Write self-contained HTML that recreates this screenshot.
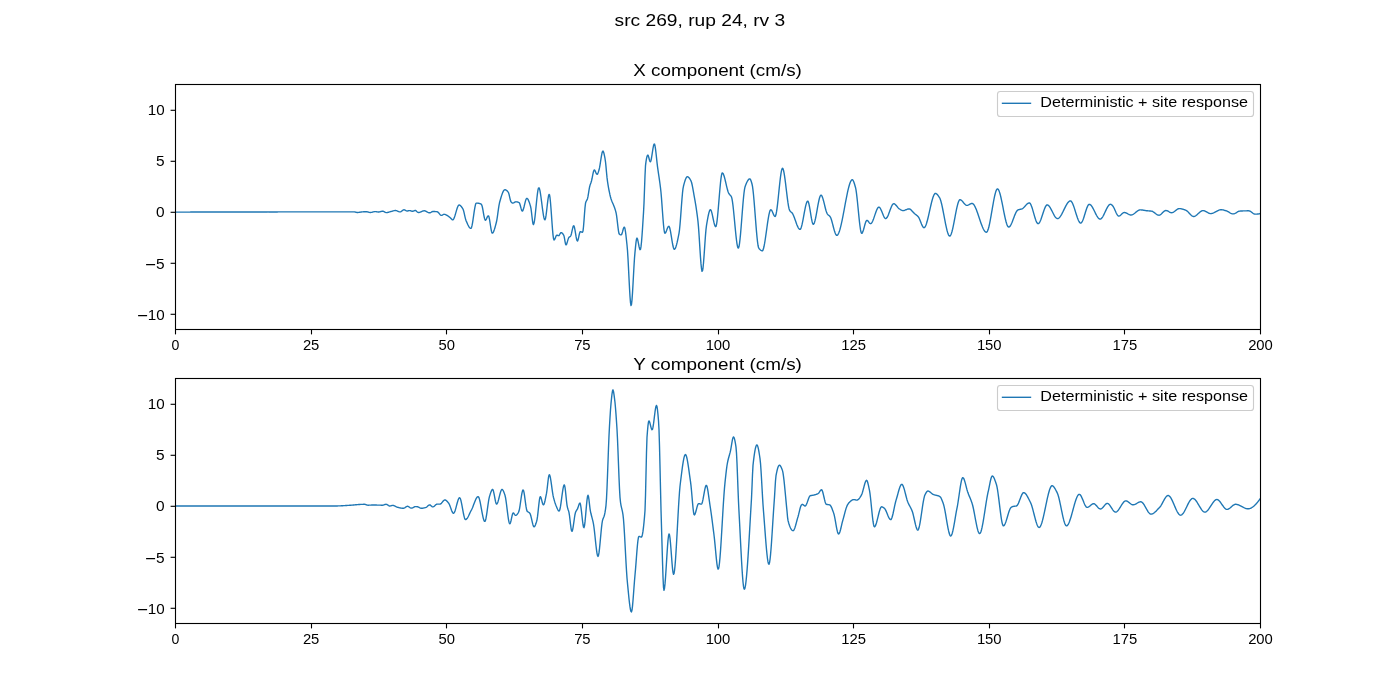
<!DOCTYPE html>
<html><head><meta charset="utf-8"><style>
html,body{margin:0;padding:0;background:#fff;width:1400px;height:700px;overflow:hidden}
svg{display:block;will-change:transform}
text{font-family:"Liberation Sans", sans-serif;fill:#000}
</style></head><body>
<svg width="1400" height="700" viewBox="0 0 1400 700">
<rect x="0" y="0" width="1400" height="700" fill="#fff"/>
<text x="699.9" y="26.3" font-size="16.9" text-anchor="middle" textLength="170.6" lengthAdjust="spacingAndGlyphs" fill="#000">src 269, rup 24, rv 3</text>
<clipPath id="c0"><rect x="175.5" y="84.5" width="1085.0" height="245.0"/></clipPath>
<path d="M175.0,212.10 L175.5,212.10 L176.0,212.10 L176.5,212.10 L177.0,212.10 L177.5,212.09 L178.0,212.09 L178.5,212.09 L179.0,212.09 L179.5,212.09 L180.0,212.09 L180.5,212.09 L181.0,212.09 L181.5,212.08 L182.0,212.08 L182.5,212.08 L183.0,212.08 L183.5,212.08 L184.0,212.08 L184.5,212.08 L185.0,212.08 L185.5,212.08 L186.0,212.07 L186.5,212.07 L187.0,212.07 L187.5,212.07 L188.0,212.07 L188.5,212.07 L189.0,212.07 L189.5,212.07 L190.0,212.07 L190.5,212.06 L191.0,212.06 L191.5,212.06 L192.0,212.06 L192.5,212.06 L193.0,212.06 L193.5,212.06 L194.0,212.06 L194.5,212.06 L195.0,212.05 L195.5,212.05 L196.0,212.05 L196.5,212.05 L197.0,212.05 L197.5,212.05 L198.0,212.05 L198.5,212.05 L199.0,212.05 L199.5,212.04 L200.0,212.04 L200.5,212.04 L201.0,212.04 L201.5,212.04 L202.0,212.04 L202.5,212.04 L203.0,212.04 L203.5,212.04 L204.0,212.04 L204.5,212.03 L205.0,212.03 L205.5,212.03 L206.0,212.03 L206.5,212.03 L207.0,212.03 L207.5,212.03 L208.0,212.03 L208.5,212.03 L209.0,212.03 L209.5,212.02 L210.0,212.02 L210.5,212.02 L211.0,212.02 L211.5,212.02 L212.0,212.02 L212.5,212.02 L213.0,212.02 L213.5,212.02 L214.0,212.02 L214.5,212.01 L215.0,212.01 L215.5,212.01 L216.0,212.01 L216.5,212.01 L217.0,212.01 L217.5,212.01 L218.0,212.01 L218.5,212.01 L219.0,212.01 L219.5,212.01 L220.0,212.00 L220.5,212.00 L221.0,212.00 L221.5,212.00 L222.0,212.00 L222.5,212.00 L223.0,212.00 L223.5,212.00 L224.0,212.00 L224.5,212.00 L225.0,212.00 L225.5,211.99 L226.0,211.99 L226.5,211.99 L227.0,211.99 L227.5,211.99 L228.0,211.99 L228.5,211.99 L229.0,211.99 L229.5,211.99 L230.0,211.99 L230.5,211.99 L231.0,211.99 L231.5,211.98 L232.0,211.98 L232.5,211.98 L233.0,211.98 L233.5,211.98 L234.0,211.98 L234.5,211.98 L235.0,211.98 L235.5,211.98 L236.0,211.98 L236.5,211.98 L237.0,211.98 L237.5,211.98 L238.0,211.97 L238.5,211.97 L239.0,211.97 L239.5,211.97 L240.0,211.97 L240.5,211.97 L241.0,211.97 L241.5,211.97 L242.0,211.97 L242.5,211.97 L243.0,211.97 L243.5,211.97 L244.0,211.97 L244.5,211.96 L245.0,211.96 L245.5,211.96 L246.0,211.96 L246.5,211.96 L247.0,211.96 L247.5,211.96 L248.0,211.96 L248.5,211.96 L249.0,211.96 L249.5,211.96 L250.0,211.96 L250.5,211.96 L251.0,211.96 L251.5,211.95 L252.0,211.95 L252.5,211.95 L253.0,211.95 L253.5,211.95 L254.0,211.95 L254.5,211.95 L255.0,211.95 L255.5,211.95 L256.0,211.95 L256.5,211.95 L257.0,211.95 L257.5,211.95 L258.0,211.95 L258.5,211.95 L259.0,211.95 L259.5,211.94 L260.0,211.94 L260.5,211.94 L261.0,211.94 L261.5,211.94 L262.0,211.94 L262.5,211.94 L263.0,211.94 L263.5,211.94 L264.0,211.94 L264.5,211.94 L265.0,211.94 L265.5,211.94 L266.0,211.94 L266.5,211.94 L267.0,211.94 L267.5,211.94 L268.0,211.93 L268.5,211.93 L269.0,211.93 L269.5,211.93 L270.0,211.93 L270.5,211.93 L271.0,211.93 L271.5,211.93 L272.0,211.93 L272.5,211.93 L273.0,211.93 L273.5,211.93 L274.0,211.93 L274.5,211.93 L275.0,211.93 L275.5,211.93 L276.0,211.93 L276.5,211.93 L277.0,211.93 L277.5,211.93 L278.0,211.92 L278.5,211.92 L279.0,211.92 L279.5,211.92 L280.0,211.92 L280.5,211.92 L281.0,211.92 L281.5,211.92 L282.0,211.92 L282.5,211.92 L283.0,211.92 L283.5,211.92 L284.0,211.92 L284.5,211.92 L285.0,211.92 L285.5,211.92 L286.0,211.92 L286.5,211.92 L287.0,211.92 L287.5,211.92 L288.0,211.92 L288.5,211.92 L289.0,211.92 L289.5,211.92 L290.0,211.91 L290.5,211.91 L291.0,211.91 L291.5,211.91 L292.0,211.91 L292.5,211.91 L293.0,211.91 L293.5,211.91 L294.0,211.91 L294.5,211.91 L295.0,211.91 L295.5,211.91 L296.0,211.91 L296.5,211.91 L297.0,211.91 L297.5,211.91 L298.0,211.91 L298.5,211.91 L299.0,211.91 L299.5,211.91 L300.0,211.91 L300.5,211.91 L301.0,211.91 L301.5,211.91 L302.0,211.91 L302.5,211.91 L303.0,211.91 L303.5,211.91 L304.0,211.91 L304.5,211.91 L305.0,211.91 L305.5,211.91 L306.0,211.91 L306.5,211.91 L307.0,211.90 L307.5,211.90 L308.0,211.90 L308.5,211.90 L309.0,211.90 L309.5,211.90 L310.0,211.90 L310.5,211.90 L311.0,211.90 L311.5,211.90 L312.0,211.90 L312.5,211.90 L313.0,211.90 L313.5,211.90 L314.0,211.90 L314.5,211.90 L315.0,211.90 L315.5,211.90 L316.0,211.90 L316.5,211.90 L317.0,211.90 L317.5,211.90 L318.0,211.90 L318.5,211.90 L319.0,211.90 L319.5,211.90 L320.0,211.90 L320.5,211.90 L321.0,211.90 L321.5,211.90 L322.0,211.90 L322.5,211.90 L323.0,211.90 L323.5,211.90 L324.0,211.90 L324.5,211.90 L325.0,211.90 L325.5,211.90 L326.0,211.90 L326.5,211.90 L327.0,211.90 L327.5,211.90 L328.0,211.90 L328.5,211.90 L329.0,211.90 L329.5,211.90 L330.0,211.90 L330.5,211.90 L331.0,211.90 L331.5,211.90 L332.0,211.90 L332.5,211.90 L333.0,211.90 L333.5,211.90 L334.0,211.90 L334.5,211.90 L335.0,211.90 L335.5,211.90 L336.0,211.90 L336.5,211.90 L337.0,211.90 L337.5,211.90 L338.0,211.90 L338.5,211.90 L339.0,211.90 L339.5,211.90 L340.0,211.90 L340.5,211.90 L341.0,211.90 L341.5,211.90 L342.0,211.90 L342.5,211.90 L343.0,211.90 L343.5,211.90 L344.0,211.90 L344.5,211.90 L345.0,211.90 L345.5,211.90 L346.0,211.90 L346.5,211.90 L347.0,211.90 L347.5,211.90 L348.0,211.90 L348.5,211.90 L349.0,211.90 L349.5,211.90 L350.0,211.90 L350.5,211.90 L351.0,211.90 L351.5,211.90 L352.0,211.90 L352.5,211.90 L353.0,211.90 L353.5,211.90 L354.0,211.90 L354.5,211.90 L355.0,211.94 L355.5,212.06 L356.0,212.22 L356.5,212.37 L357.0,212.48 L357.5,212.50 L358.0,212.47 L358.5,212.42 L359.0,212.35 L359.5,212.27 L360.0,212.19 L360.5,212.10 L361.0,212.02 L361.5,211.96 L362.0,211.91 L362.5,211.87 L363.0,211.84 L363.5,211.81 L364.0,211.78 L364.5,211.75 L365.0,211.73 L365.5,211.71 L366.0,211.70 L366.5,211.70 L367.0,211.75 L367.5,211.86 L368.0,212.01 L368.5,212.16 L369.0,212.31 L369.5,212.43 L370.0,212.49 L370.5,212.49 L371.0,212.43 L371.5,212.34 L372.0,212.22 L372.5,212.08 L373.0,211.94 L373.5,211.81 L374.0,211.70 L374.5,211.63 L375.0,211.60 L375.5,211.62 L376.0,211.67 L376.5,211.74 L377.0,211.82 L377.5,211.89 L378.0,211.95 L378.5,211.99 L379.0,211.99 L379.5,211.92 L380.0,211.80 L380.5,211.65 L381.0,211.49 L381.5,211.34 L382.0,211.24 L382.5,211.20 L383.0,211.27 L383.5,211.45 L384.0,211.69 L384.5,211.97 L385.0,212.24 L385.5,212.45 L386.0,212.58 L386.5,212.59 L387.0,212.55 L387.5,212.47 L388.0,212.37 L388.5,212.24 L389.0,212.10 L389.5,211.95 L390.0,211.80 L390.5,211.65 L391.0,211.52 L391.5,211.40 L392.0,211.26 L392.5,211.10 L393.0,210.95 L393.5,210.81 L394.0,210.68 L394.5,210.58 L395.0,210.52 L395.5,210.50 L396.0,210.56 L396.5,210.69 L397.0,210.86 L397.5,211.07 L398.0,211.29 L398.5,211.50 L399.0,211.68 L399.5,211.82 L400.0,211.89 L400.5,211.86 L401.0,211.65 L401.5,211.30 L402.0,210.89 L402.5,210.47 L403.0,210.11 L403.5,209.87 L404.0,209.80 L404.5,209.91 L405.0,210.13 L405.5,210.40 L406.0,210.67 L406.5,210.89 L407.0,211.00 L407.5,210.98 L408.0,210.90 L408.5,210.79 L409.0,210.68 L409.5,210.61 L410.0,210.61 L410.5,210.72 L411.0,210.89 L411.5,211.08 L412.0,211.24 L412.5,211.30 L413.0,211.22 L413.5,211.02 L414.0,210.78 L414.5,210.55 L415.0,210.41 L415.5,210.45 L416.0,210.73 L416.5,211.16 L417.0,211.65 L417.5,212.10 L418.0,212.41 L418.5,212.50 L419.0,212.45 L419.5,212.34 L420.0,212.18 L420.5,211.99 L421.0,211.78 L421.5,211.56 L422.0,211.34 L422.5,211.14 L423.0,210.97 L423.5,210.84 L424.0,210.76 L424.5,210.76 L425.0,210.85 L425.5,211.02 L426.0,211.25 L426.5,211.52 L427.0,211.80 L427.5,212.09 L428.0,212.35 L428.5,212.57 L429.0,212.73 L429.5,212.80 L430.0,212.75 L430.5,212.56 L431.0,212.30 L431.5,212.00 L432.0,211.74 L432.5,211.55 L433.0,211.50 L433.5,211.50 L434.0,211.51 L434.5,211.53 L435.0,211.55 L435.5,211.58 L436.0,211.61 L436.5,211.65 L437.0,211.69 L437.5,211.82 L438.0,212.17 L438.5,212.68 L439.0,213.28 L439.5,213.91 L440.0,214.51 L440.5,214.99 L441.0,215.31 L441.5,215.40 L442.0,215.26 L442.5,215.00 L443.0,214.70 L443.5,214.44 L444.0,214.30 L444.5,214.32 L445.0,214.42 L445.5,214.58 L446.0,214.79 L446.5,215.06 L447.0,215.36 L447.5,215.69 L448.0,216.04 L448.5,216.41 L449.0,216.78 L449.5,217.14 L450.0,217.50 L450.5,217.95 L451.0,218.52 L451.5,219.10 L452.0,219.59 L452.5,219.87 L453.0,219.80 L453.5,219.26 L454.0,218.31 L454.5,217.03 L455.0,215.51 L455.5,213.84 L456.0,212.10 L456.5,210.38 L457.0,208.76 L457.5,207.33 L458.0,206.17 L458.5,205.37 L459.0,205.01 L459.5,205.06 L460.0,205.29 L460.5,205.67 L461.0,206.17 L461.5,206.79 L462.0,207.49 L462.5,208.26 L463.0,209.08 L463.5,210.43 L464.0,212.33 L464.5,214.53 L465.0,216.79 L465.5,218.85 L466.0,220.46 L466.5,221.62 L467.0,222.77 L467.5,223.90 L468.0,224.96 L468.5,225.93 L469.0,226.78 L469.5,227.48 L470.0,228.00 L470.5,228.32 L471.0,228.37 L471.5,227.53 L472.0,225.68 L472.5,223.05 L473.0,219.90 L473.5,216.45 L474.0,212.96 L474.5,209.66 L475.0,206.79 L475.5,204.60 L476.0,203.33 L476.5,203.10 L477.0,203.12 L477.5,203.16 L478.0,203.22 L478.5,203.30 L479.0,203.39 L479.5,203.50 L480.0,203.62 L480.5,203.76 L481.0,204.01 L481.5,204.41 L482.0,205.64 L482.5,207.75 L483.0,210.42 L483.5,213.30 L484.0,216.06 L484.5,218.37 L485.0,219.88 L485.5,220.28 L486.0,219.79 L486.5,218.82 L487.0,217.64 L487.5,216.56 L488.0,215.84 L488.5,215.83 L489.0,217.12 L489.5,219.48 L490.0,222.50 L490.5,225.76 L491.0,228.86 L491.5,231.38 L492.0,232.92 L492.5,233.16 L493.0,232.72 L493.5,231.85 L494.0,230.63 L494.5,229.14 L495.0,227.44 L495.5,225.61 L496.0,223.73 L496.5,221.77 L497.0,219.10 L497.5,215.80 L498.0,212.21 L498.5,208.63 L499.0,205.38 L499.5,202.79 L500.0,200.95 L500.5,199.21 L501.0,197.51 L501.5,195.90 L502.0,194.40 L502.5,193.05 L503.0,191.88 L503.5,190.93 L504.0,190.23 L504.5,189.81 L505.0,189.70 L505.5,189.80 L506.0,190.03 L506.5,190.38 L507.0,190.82 L507.5,191.34 L508.0,191.92 L508.5,192.65 L509.0,194.19 L509.5,196.33 L510.0,198.62 L510.5,200.62 L511.0,201.88 L511.5,202.38 L512.0,202.77 L512.5,203.03 L513.0,203.10 L513.5,202.95 L514.0,202.66 L514.5,202.31 L515.0,202.00 L515.5,201.82 L516.0,201.81 L516.5,201.85 L517.0,201.93 L517.5,202.04 L518.0,202.18 L518.5,202.36 L519.0,202.56 L519.5,203.10 L520.0,204.44 L520.5,206.25 L521.0,208.17 L521.5,209.84 L522.0,210.90 L522.5,211.03 L523.0,210.27 L523.5,208.85 L524.0,207.00 L524.5,204.91 L525.0,202.81 L525.5,200.89 L526.0,199.37 L526.5,198.46 L527.0,198.33 L527.5,198.69 L528.0,199.39 L528.5,200.39 L529.0,201.63 L529.5,203.06 L530.0,204.62 L530.5,206.27 L531.0,208.58 L531.5,212.37 L532.0,216.77 L532.5,220.87 L533.0,223.77 L533.5,224.56 L534.0,223.33 L534.5,220.63 L535.0,216.80 L535.5,212.20 L536.0,207.17 L536.5,202.08 L537.0,197.27 L537.5,193.09 L538.0,189.89 L538.5,188.03 L539.0,187.80 L539.5,188.87 L540.0,190.95 L540.5,193.81 L541.0,197.24 L541.5,201.04 L542.0,204.99 L542.5,208.87 L543.0,212.47 L543.5,215.59 L544.0,218.00 L544.5,219.50 L545.0,219.86 L545.5,218.54 L546.0,215.71 L546.5,211.87 L547.0,207.50 L547.5,203.07 L548.0,199.09 L548.5,196.02 L549.0,194.36 L549.5,194.71 L550.0,197.59 L550.5,202.46 L551.0,208.69 L551.5,215.67 L552.0,222.77 L552.5,229.38 L553.0,234.86 L553.5,238.61 L554.0,240.00 L554.5,239.61 L555.0,238.65 L555.5,237.42 L556.0,236.22 L556.5,235.35 L557.0,235.11 L557.5,235.27 L558.0,235.53 L558.5,235.69 L559.0,235.49 L559.5,234.78 L560.0,233.87 L560.5,233.05 L561.0,232.61 L561.5,232.68 L562.0,232.97 L562.5,233.44 L563.0,234.06 L563.5,234.79 L564.0,235.92 L564.5,238.37 L565.0,241.34 L565.5,243.85 L566.0,244.90 L566.5,244.39 L567.0,243.09 L567.5,241.38 L568.0,239.60 L568.5,238.12 L569.0,237.29 L569.5,236.91 L570.0,236.61 L570.5,236.21 L571.0,235.27 L571.5,233.45 L572.0,231.16 L572.5,228.83 L573.0,226.91 L573.5,225.81 L574.0,225.99 L574.5,227.55 L575.0,230.07 L575.5,233.09 L576.0,236.15 L576.5,238.81 L577.0,240.60 L577.5,241.07 L578.0,240.06 L578.5,238.07 L579.0,235.67 L579.5,233.45 L580.0,231.98 L580.5,231.71 L581.0,231.83 L581.5,232.02 L582.0,232.20 L582.5,232.30 L583.0,231.08 L583.5,226.78 L584.0,220.59 L584.5,213.78 L585.0,207.59 L585.5,203.30 L586.0,201.61 L586.5,200.72 L587.0,199.92 L587.5,198.68 L588.0,196.38 L588.5,193.30 L589.0,190.06 L589.5,187.26 L590.0,185.35 L590.5,183.89 L591.0,182.53 L591.5,180.95 L592.0,178.77 L592.5,176.20 L593.0,173.64 L593.5,171.49 L594.0,170.15 L594.5,169.97 L595.0,170.60 L595.5,171.67 L596.0,172.86 L596.5,173.87 L597.0,174.38 L597.5,174.10 L598.0,173.06 L598.5,171.61 L599.0,170.09 L599.5,167.96 L600.0,165.12 L600.5,161.89 L601.0,158.59 L601.5,155.54 L602.0,153.05 L602.5,151.44 L603.0,151.03 L603.5,151.84 L604.0,153.56 L604.5,155.88 L605.0,158.48 L605.5,161.78 L606.0,166.67 L606.5,172.21 L607.0,177.42 L607.5,181.37 L608.0,184.57 L608.5,187.53 L609.0,190.25 L609.5,192.73 L610.0,194.97 L610.5,196.98 L611.0,198.73 L611.5,200.23 L612.0,201.52 L612.5,202.68 L613.0,203.79 L613.5,204.93 L614.0,206.17 L614.5,207.58 L615.0,209.03 L615.5,210.62 L616.0,212.48 L616.5,215.08 L617.0,218.83 L617.5,223.15 L618.0,227.44 L618.5,231.09 L619.0,233.50 L619.5,234.24 L620.0,234.55 L620.5,234.77 L621.0,234.89 L621.5,234.69 L622.0,233.59 L622.5,231.90 L623.0,230.00 L623.5,228.31 L624.0,227.21 L624.5,227.15 L625.0,228.76 L625.5,231.77 L626.0,235.75 L626.5,240.30 L627.0,244.98 L627.5,250.52 L628.0,258.52 L628.5,268.10 L629.0,278.28 L629.5,288.08 L630.0,296.53 L630.5,302.67 L631.0,305.51 L631.5,304.37 L632.0,299.86 L632.5,292.87 L633.0,284.30 L633.5,275.04 L634.0,266.00 L634.5,258.05 L635.0,252.10 L635.5,247.16 L636.0,242.40 L636.5,238.99 L637.0,238.03 L637.5,239.03 L638.0,241.06 L638.5,243.63 L639.0,246.25 L639.5,248.43 L640.0,249.68 L640.5,249.33 L641.0,246.64 L641.5,241.98 L642.0,235.81 L642.5,228.60 L643.0,220.79 L643.5,212.86 L644.0,203.13 L644.5,189.49 L645.0,175.71 L645.5,165.68 L646.0,161.59 L646.5,158.68 L647.0,156.48 L647.5,155.22 L648.0,155.13 L648.5,156.32 L649.0,158.24 L649.5,160.23 L650.0,161.63 L650.5,161.77 L651.0,160.44 L651.5,158.01 L652.0,154.91 L652.5,151.55 L653.0,148.37 L653.5,145.77 L654.0,144.19 L654.5,144.06 L655.0,145.74 L655.5,148.87 L656.0,152.98 L656.5,157.61 L657.0,162.31 L657.5,166.60 L658.0,170.20 L658.5,173.59 L659.0,176.94 L659.5,180.37 L660.0,183.98 L660.5,187.88 L661.0,192.53 L661.5,198.43 L662.0,205.11 L662.5,212.06 L663.0,218.78 L663.5,224.76 L664.0,229.50 L664.5,232.50 L665.0,233.29 L665.5,232.85 L666.0,231.92 L666.5,230.70 L667.0,229.34 L667.5,228.04 L668.0,226.97 L668.5,226.32 L669.0,226.29 L669.5,227.23 L670.0,229.02 L670.5,231.46 L671.0,234.33 L671.5,237.44 L672.0,240.56 L672.5,243.50 L673.0,246.04 L673.5,247.98 L674.0,249.10 L674.5,249.26 L675.0,248.80 L675.5,247.89 L676.0,246.57 L676.5,244.91 L677.0,242.95 L677.5,240.76 L678.0,238.38 L678.5,235.88 L679.0,233.30 L679.5,229.78 L680.0,224.72 L680.5,218.60 L681.0,211.89 L681.5,205.06 L682.0,198.59 L682.5,192.95 L683.0,188.61 L683.5,186.01 L684.0,184.11 L684.5,182.34 L685.0,180.73 L685.5,179.33 L686.0,178.19 L686.5,177.34 L687.0,176.83 L687.5,176.70 L688.0,176.86 L688.5,177.20 L689.0,177.71 L689.5,178.36 L690.0,179.13 L690.5,179.98 L691.0,180.90 L691.5,182.29 L692.0,184.24 L692.5,186.63 L693.0,189.31 L693.5,192.15 L694.0,195.02 L694.5,197.81 L695.0,200.64 L695.5,203.61 L696.0,206.73 L696.5,210.05 L697.0,213.60 L697.5,217.42 L698.0,221.59 L698.5,227.15 L699.0,234.12 L699.5,241.90 L700.0,249.86 L700.5,257.39 L701.0,263.88 L701.5,268.71 L702.0,271.26 L702.5,270.97 L703.0,268.01 L703.5,263.00 L704.0,256.57 L704.5,249.37 L705.0,242.01 L705.5,235.14 L706.0,229.39 L706.5,225.40 L707.0,222.48 L707.5,219.62 L708.0,216.92 L708.5,214.49 L709.0,212.45 L709.5,210.89 L710.0,209.95 L710.5,209.72 L711.0,210.31 L711.5,211.60 L712.0,213.43 L712.5,215.63 L713.0,218.01 L713.5,220.41 L714.0,222.65 L714.5,224.57 L715.0,225.98 L715.5,226.73 L716.0,226.48 L716.5,224.62 L717.0,221.35 L717.5,216.96 L718.0,211.73 L718.5,205.93 L719.0,199.85 L719.5,193.77 L720.0,187.97 L720.5,182.74 L721.0,178.35 L721.5,175.08 L722.0,173.22 L722.5,172.95 L723.0,173.44 L723.5,174.42 L724.0,175.80 L724.5,177.50 L725.0,179.43 L725.5,181.52 L726.0,183.68 L726.5,185.84 L727.0,187.91 L727.5,189.82 L728.0,191.47 L728.5,192.80 L729.0,193.73 L729.5,194.38 L730.0,194.91 L730.5,195.44 L731.0,196.10 L731.5,197.03 L732.0,198.90 L732.5,201.87 L733.0,205.71 L733.5,210.23 L734.0,215.23 L734.5,220.49 L735.0,225.83 L735.5,231.04 L736.0,235.90 L736.5,240.23 L737.0,243.81 L737.5,246.45 L738.0,247.94 L738.5,248.06 L739.0,246.55 L739.5,243.59 L740.0,239.43 L740.5,234.33 L741.0,228.52 L741.5,222.26 L742.0,215.80 L742.5,209.40 L743.0,203.30 L743.5,197.75 L744.0,193.00 L744.5,189.30 L745.0,186.90 L745.5,185.54 L746.0,184.27 L746.5,183.08 L747.0,181.99 L747.5,181.03 L748.0,180.21 L748.5,179.56 L749.0,179.10 L749.5,178.84 L750.0,178.86 L750.5,179.52 L751.0,180.73 L751.5,182.29 L752.0,184.00 L752.5,186.42 L753.0,190.09 L753.5,194.79 L754.0,200.29 L754.5,206.35 L755.0,212.74 L755.5,219.24 L756.0,225.61 L756.5,231.63 L757.0,237.06 L757.5,241.67 L758.0,245.24 L758.5,247.53 L759.0,248.45 L759.5,249.04 L760.0,249.56 L760.5,250.01 L761.0,250.37 L761.5,250.63 L762.0,250.78 L762.5,250.73 L763.0,250.01 L763.5,248.57 L764.0,246.53 L764.5,243.97 L765.0,240.99 L765.5,237.71 L766.0,234.22 L766.5,230.61 L767.0,227.00 L767.5,223.47 L768.0,220.14 L768.5,217.10 L769.0,214.45 L769.5,212.29 L770.0,210.72 L770.5,209.85 L771.0,209.74 L771.5,210.18 L772.0,210.99 L772.5,212.05 L773.0,213.22 L773.5,214.38 L774.0,215.39 L774.5,216.14 L775.0,216.49 L775.5,216.09 L776.0,214.53 L776.5,211.97 L777.0,208.58 L777.5,204.55 L778.0,200.06 L778.5,195.28 L779.0,190.39 L779.5,185.58 L780.0,181.01 L780.5,176.88 L781.0,173.35 L781.5,170.61 L782.0,168.83 L782.5,168.20 L783.0,168.73 L783.5,170.23 L784.0,172.55 L784.5,175.54 L785.0,179.06 L785.5,182.95 L786.0,187.08 L786.5,191.29 L787.0,195.44 L787.5,199.38 L788.0,202.96 L788.5,206.04 L789.0,208.47 L789.5,210.10 L790.0,210.93 L790.5,211.49 L791.0,211.93 L791.5,212.35 L792.0,212.85 L792.5,213.53 L793.0,214.43 L793.5,215.49 L794.0,216.70 L794.5,218.02 L795.0,219.40 L795.5,220.83 L796.0,222.25 L796.5,223.64 L797.0,224.95 L797.5,226.16 L798.0,227.24 L798.5,228.13 L799.0,228.81 L799.5,229.25 L800.0,229.40 L800.5,229.06 L801.0,228.09 L801.5,226.60 L802.0,224.66 L802.5,222.39 L803.0,219.86 L803.5,217.17 L804.0,214.42 L804.5,211.70 L805.0,209.10 L805.5,206.71 L806.0,204.63 L806.5,202.95 L807.0,201.76 L807.5,201.16 L808.0,201.29 L808.5,202.39 L809.0,204.27 L809.5,206.75 L810.0,209.63 L810.5,212.70 L811.0,215.77 L811.5,218.65 L812.0,221.13 L812.5,223.01 L813.0,224.11 L813.5,224.24 L814.0,223.62 L814.5,222.39 L815.0,220.66 L815.5,218.51 L816.0,216.05 L816.5,213.36 L817.0,210.55 L817.5,207.71 L818.0,204.94 L818.5,202.34 L819.0,199.99 L819.5,197.99 L820.0,196.45 L820.5,195.45 L821.0,195.10 L821.5,195.38 L822.0,196.16 L822.5,197.36 L823.0,198.90 L823.5,200.69 L824.0,202.65 L824.5,204.70 L825.0,206.75 L825.5,208.72 L826.0,210.53 L826.5,212.08 L827.0,213.31 L827.5,214.13 L828.0,214.68 L828.5,215.10 L829.0,215.49 L829.5,215.93 L830.0,216.50 L830.5,217.36 L831.0,218.58 L831.5,220.07 L832.0,221.77 L832.5,223.62 L833.0,225.54 L833.5,227.47 L834.0,229.33 L834.5,231.06 L835.0,232.59 L835.5,233.86 L836.0,234.79 L836.5,235.31 L837.0,235.37 L837.5,235.07 L838.0,234.45 L838.5,233.54 L839.0,232.35 L839.5,230.92 L840.0,229.26 L840.5,227.39 L841.0,225.35 L841.5,223.14 L842.0,220.80 L842.5,218.34 L843.0,215.79 L843.5,213.18 L844.0,210.51 L844.5,207.82 L845.0,205.13 L845.5,202.45 L846.0,199.83 L846.5,197.26 L847.0,194.78 L847.5,192.42 L848.0,190.18 L848.5,188.10 L849.0,186.20 L849.5,184.50 L850.0,183.02 L850.5,181.78 L851.0,180.81 L851.5,180.13 L852.0,179.76 L852.5,179.75 L853.0,180.24 L853.5,181.20 L854.0,182.50 L854.5,184.05 L855.0,185.73 L855.5,187.46 L856.0,189.95 L856.5,193.39 L857.0,197.58 L857.5,202.28 L858.0,207.30 L858.5,212.42 L859.0,217.43 L859.5,222.11 L860.0,226.25 L860.5,229.63 L861.0,232.05 L861.5,233.28 L862.0,233.27 L862.5,232.57 L863.0,231.35 L863.5,229.78 L864.0,227.98 L864.5,226.10 L865.0,224.27 L865.5,222.64 L866.0,221.34 L866.5,220.52 L867.0,220.31 L867.5,220.54 L868.0,221.02 L868.5,221.66 L869.0,222.34 L869.5,222.98 L870.0,223.46 L870.5,223.69 L871.0,223.59 L871.5,223.16 L872.0,222.44 L872.5,221.49 L873.0,220.34 L873.5,219.04 L874.0,217.63 L874.5,216.15 L875.0,214.65 L875.5,213.17 L876.0,211.76 L876.5,210.46 L877.0,209.31 L877.5,208.36 L878.0,207.64 L878.5,207.21 L879.0,207.11 L879.5,207.35 L880.0,207.91 L880.5,208.71 L881.0,209.71 L881.5,210.86 L882.0,212.09 L882.5,213.36 L883.0,214.60 L883.5,215.77 L884.0,216.80 L884.5,217.65 L885.0,218.26 L885.5,218.57 L886.0,218.54 L886.5,218.18 L887.0,217.55 L887.5,216.68 L888.0,215.61 L888.5,214.40 L889.0,213.09 L889.5,211.71 L890.0,210.31 L890.5,208.94 L891.0,207.65 L891.5,206.46 L892.0,205.43 L892.5,204.61 L893.0,204.02 L893.5,203.73 L894.0,203.73 L894.5,203.92 L895.0,204.25 L895.5,204.69 L896.0,205.21 L896.5,205.80 L897.0,206.41 L897.5,207.03 L898.0,207.62 L898.5,208.16 L899.0,208.61 L899.5,208.96 L900.0,209.29 L900.5,209.62 L901.0,209.93 L901.5,210.21 L902.0,210.43 L902.5,210.56 L903.0,210.60 L903.5,210.56 L904.0,210.46 L904.5,210.32 L905.0,210.15 L905.5,209.95 L906.0,209.75 L906.5,209.55 L907.0,209.35 L907.5,209.18 L908.0,209.04 L908.5,208.94 L909.0,208.90 L909.5,208.95 L910.0,209.15 L910.5,209.46 L911.0,209.88 L911.5,210.37 L912.0,210.92 L912.5,211.49 L913.0,212.06 L913.5,212.61 L914.0,213.12 L914.5,213.57 L915.0,213.98 L915.5,214.37 L916.0,214.76 L916.5,215.16 L917.0,215.59 L917.5,216.05 L918.0,216.56 L918.5,217.16 L919.0,217.98 L919.5,219.01 L920.0,220.19 L920.5,221.46 L921.0,222.75 L921.5,224.01 L922.0,225.18 L922.5,226.19 L923.0,226.99 L923.5,227.51 L924.0,227.70 L924.5,227.51 L925.0,226.95 L925.5,226.07 L926.0,224.90 L926.5,223.47 L927.0,221.82 L927.5,219.99 L928.0,217.99 L928.5,215.89 L929.0,213.69 L929.5,211.45 L930.0,209.20 L930.5,206.96 L931.0,204.78 L931.5,202.70 L932.0,200.73 L932.5,198.93 L933.0,197.32 L933.5,195.94 L934.0,194.82 L934.5,194.01 L935.0,193.52 L935.5,193.40 L936.0,193.53 L936.5,193.82 L937.0,194.25 L937.5,194.79 L938.0,195.41 L938.5,196.10 L939.0,196.82 L939.5,197.55 L940.0,198.55 L940.5,199.91 L941.0,201.57 L941.5,203.51 L942.0,205.67 L942.5,208.01 L943.0,210.50 L943.5,213.08 L944.0,215.71 L944.5,218.36 L945.0,220.98 L945.5,223.52 L946.0,225.95 L946.5,228.21 L947.0,230.28 L947.5,232.10 L948.0,233.63 L948.5,234.83 L949.0,235.65 L949.5,236.06 L950.0,236.01 L950.5,235.48 L951.0,234.51 L951.5,233.15 L952.0,231.47 L952.5,229.49 L953.0,227.28 L953.5,224.89 L954.0,222.36 L954.5,219.75 L955.0,217.11 L955.5,214.47 L956.0,211.91 L956.5,209.45 L957.0,207.17 L957.5,205.09 L958.0,203.28 L958.5,201.79 L959.0,200.66 L959.5,199.95 L960.0,199.70 L960.5,199.79 L961.0,200.02 L961.5,200.39 L962.0,200.86 L962.5,201.40 L963.0,202.00 L963.5,202.61 L964.0,203.23 L964.5,203.81 L965.0,204.34 L965.5,204.79 L966.0,205.13 L966.5,205.34 L967.0,205.40 L967.5,205.32 L968.0,205.16 L968.5,204.93 L969.0,204.66 L969.5,204.37 L970.0,204.08 L970.5,203.82 L971.0,203.60 L971.5,203.45 L972.0,203.40 L972.5,203.50 L973.0,203.80 L973.5,204.28 L974.0,204.92 L974.5,205.71 L975.0,206.64 L975.5,207.69 L976.0,208.85 L976.5,210.10 L977.0,211.43 L977.5,212.83 L978.0,214.27 L978.5,215.75 L979.0,217.25 L979.5,218.75 L980.0,220.25 L980.5,221.72 L981.0,223.16 L981.5,224.54 L982.0,225.85 L982.5,227.09 L983.0,228.23 L983.5,229.26 L984.0,230.16 L984.5,230.92 L985.0,231.53 L985.5,231.98 L986.0,232.23 L986.5,232.29 L987.0,231.93 L987.5,231.11 L988.0,229.85 L988.5,228.23 L989.0,226.27 L989.5,224.04 L990.0,221.57 L990.5,218.91 L991.0,216.12 L991.5,213.23 L992.0,210.31 L992.5,207.38 L993.0,204.52 L993.5,201.75 L994.0,199.12 L994.5,196.70 L995.0,194.51 L995.5,192.62 L996.0,191.06 L996.5,189.89 L997.0,189.16 L997.5,188.90 L998.0,189.12 L998.5,189.76 L999.0,190.77 L999.5,192.12 L1000.0,193.76 L1000.5,195.65 L1001.0,197.76 L1001.5,200.04 L1002.0,202.44 L1002.5,204.94 L1003.0,207.49 L1003.5,210.04 L1004.0,212.56 L1004.5,215.01 L1005.0,217.35 L1005.5,219.53 L1006.0,221.51 L1006.5,223.26 L1007.0,224.73 L1007.5,225.88 L1008.0,226.67 L1008.5,227.06 L1009.0,227.05 L1009.5,226.76 L1010.0,226.24 L1010.5,225.52 L1011.0,224.62 L1011.5,223.57 L1012.0,222.41 L1012.5,221.16 L1013.0,219.85 L1013.5,218.52 L1014.0,217.18 L1014.5,215.87 L1015.0,214.62 L1015.5,213.46 L1016.0,212.41 L1016.5,211.51 L1017.0,210.78 L1017.5,210.25 L1018.0,209.96 L1018.5,209.77 L1019.0,209.63 L1019.5,209.51 L1020.0,209.41 L1020.5,209.30 L1021.0,209.19 L1021.5,209.04 L1022.0,208.86 L1022.5,208.59 L1023.0,208.23 L1023.5,207.80 L1024.0,207.30 L1024.5,206.77 L1025.0,206.21 L1025.5,205.65 L1026.0,205.10 L1026.5,204.57 L1027.0,204.09 L1027.5,203.66 L1028.0,203.32 L1028.5,203.07 L1029.0,202.92 L1029.5,202.93 L1030.0,203.27 L1030.5,203.95 L1031.0,204.93 L1031.5,206.15 L1032.0,207.57 L1032.5,209.15 L1033.0,210.84 L1033.5,212.59 L1034.0,214.36 L1034.5,216.11 L1035.0,217.77 L1035.5,219.33 L1036.0,220.71 L1036.5,221.89 L1037.0,222.81 L1037.5,223.42 L1038.0,223.69 L1038.5,223.59 L1039.0,223.18 L1039.5,222.50 L1040.0,221.58 L1040.5,220.47 L1041.0,219.19 L1041.5,217.79 L1042.0,216.30 L1042.5,214.76 L1043.0,213.22 L1043.5,211.70 L1044.0,210.24 L1044.5,208.88 L1045.0,207.67 L1045.5,206.62 L1046.0,205.79 L1046.5,205.22 L1047.0,204.93 L1047.5,204.93 L1048.0,205.14 L1048.5,205.50 L1049.0,206.01 L1049.5,206.64 L1050.0,207.39 L1050.5,208.22 L1051.0,209.12 L1051.5,210.07 L1052.0,211.05 L1052.5,212.05 L1053.0,213.04 L1053.5,214.01 L1054.0,214.93 L1054.5,215.79 L1055.0,216.57 L1055.5,217.25 L1056.0,217.81 L1056.5,218.24 L1057.0,218.51 L1057.5,218.60 L1058.0,218.52 L1058.5,218.30 L1059.0,217.94 L1059.5,217.46 L1060.0,216.86 L1060.5,216.17 L1061.0,215.40 L1061.5,214.55 L1062.0,213.64 L1062.5,212.68 L1063.0,211.69 L1063.5,210.67 L1064.0,209.65 L1064.5,208.62 L1065.0,207.61 L1065.5,206.62 L1066.0,205.67 L1066.5,204.78 L1067.0,203.94 L1067.5,203.18 L1068.0,202.51 L1068.5,201.94 L1069.0,201.48 L1069.5,201.15 L1070.0,200.95 L1070.5,200.91 L1071.0,201.12 L1071.5,201.61 L1072.0,202.34 L1072.5,203.29 L1073.0,204.43 L1073.5,205.72 L1074.0,207.14 L1074.5,208.65 L1075.0,210.23 L1075.5,211.84 L1076.0,213.45 L1076.5,215.04 L1077.0,216.56 L1077.5,218.00 L1078.0,219.32 L1078.5,220.49 L1079.0,221.49 L1079.5,222.27 L1080.0,222.81 L1080.5,223.08 L1081.0,223.03 L1081.5,222.64 L1082.0,221.94 L1082.5,220.97 L1083.0,219.79 L1083.5,218.42 L1084.0,216.92 L1084.5,215.33 L1085.0,213.70 L1085.5,212.07 L1086.0,210.48 L1086.5,208.98 L1087.0,207.61 L1087.5,206.43 L1088.0,205.46 L1088.5,204.76 L1089.0,204.37 L1089.5,204.32 L1090.0,204.48 L1090.5,204.81 L1091.0,205.28 L1091.5,205.89 L1092.0,206.61 L1092.5,207.43 L1093.0,208.32 L1093.5,209.27 L1094.0,210.27 L1094.5,211.29 L1095.0,212.32 L1095.5,213.33 L1096.0,214.32 L1096.5,215.26 L1097.0,216.14 L1097.5,216.94 L1098.0,217.64 L1098.5,218.22 L1099.0,218.67 L1099.5,218.97 L1100.0,219.10 L1100.5,219.03 L1101.0,218.78 L1101.5,218.35 L1102.0,217.77 L1102.5,217.06 L1103.0,216.24 L1103.5,215.33 L1104.0,214.34 L1104.5,213.31 L1105.0,212.24 L1105.5,211.16 L1106.0,210.09 L1106.5,209.06 L1107.0,208.07 L1107.5,207.16 L1108.0,206.34 L1108.5,205.63 L1109.0,205.05 L1109.5,204.62 L1110.0,204.37 L1110.5,204.30 L1111.0,204.46 L1111.5,204.77 L1112.0,205.15 L1112.5,205.57 L1113.0,206.21 L1113.5,207.03 L1114.0,207.99 L1114.5,209.06 L1115.0,210.19 L1115.5,211.33 L1116.0,212.44 L1116.5,213.48 L1117.0,214.40 L1117.5,215.16 L1118.0,215.73 L1118.5,216.04 L1119.0,216.09 L1119.5,215.94 L1120.0,215.66 L1120.5,215.28 L1121.0,214.83 L1121.5,214.35 L1122.0,213.86 L1122.5,213.40 L1123.0,213.01 L1123.5,212.71 L1124.0,212.53 L1124.5,212.51 L1125.0,212.58 L1125.5,212.72 L1126.0,212.91 L1126.5,213.15 L1127.0,213.41 L1127.5,213.69 L1128.0,213.98 L1128.5,214.25 L1129.0,214.50 L1129.5,214.71 L1130.0,214.87 L1130.5,214.97 L1131.0,215.00 L1131.5,214.94 L1132.0,214.81 L1132.5,214.61 L1133.0,214.35 L1133.5,214.05 L1134.0,213.70 L1134.5,213.33 L1135.0,212.94 L1135.5,212.53 L1136.0,212.13 L1136.5,211.73 L1137.0,211.34 L1137.5,210.99 L1138.0,210.67 L1138.5,210.39 L1139.0,210.17 L1139.5,210.00 L1140.0,209.92 L1140.5,209.90 L1141.0,209.92 L1141.5,209.95 L1142.0,210.00 L1142.5,210.06 L1143.0,210.13 L1143.5,210.21 L1144.0,210.29 L1144.5,210.38 L1145.0,210.46 L1145.5,210.55 L1146.0,210.62 L1146.5,210.70 L1147.0,210.76 L1147.5,210.81 L1148.0,210.85 L1148.5,210.88 L1149.0,210.91 L1149.5,210.94 L1150.0,210.98 L1150.5,211.02 L1151.0,211.07 L1151.5,211.13 L1152.0,211.27 L1152.5,211.47 L1153.0,211.74 L1153.5,212.05 L1154.0,212.40 L1154.5,212.77 L1155.0,213.15 L1155.5,213.54 L1156.0,213.91 L1156.5,214.25 L1157.0,214.56 L1157.5,214.82 L1158.0,215.02 L1158.5,215.15 L1159.0,215.20 L1159.5,215.13 L1160.0,214.93 L1160.5,214.63 L1161.0,214.24 L1161.5,213.80 L1162.0,213.31 L1162.5,212.80 L1163.0,212.29 L1163.5,211.81 L1164.0,211.37 L1164.5,211.00 L1165.0,210.72 L1165.5,210.55 L1166.0,210.50 L1166.5,210.57 L1167.0,210.71 L1167.5,210.92 L1168.0,211.18 L1168.5,211.46 L1169.0,211.74 L1169.5,212.02 L1170.0,212.28 L1170.5,212.49 L1171.0,212.63 L1171.5,212.70 L1172.0,212.67 L1172.5,212.55 L1173.0,212.34 L1173.5,212.07 L1174.0,211.75 L1174.5,211.39 L1175.0,211.01 L1175.5,210.61 L1176.0,210.21 L1176.5,209.83 L1177.0,209.48 L1177.5,209.17 L1178.0,208.91 L1178.5,208.72 L1179.0,208.62 L1179.5,208.60 L1180.0,208.63 L1180.5,208.68 L1181.0,208.76 L1181.5,208.85 L1182.0,208.97 L1182.5,209.10 L1183.0,209.25 L1183.5,209.41 L1184.0,209.59 L1184.5,209.77 L1185.0,209.96 L1185.5,210.15 L1186.0,210.34 L1186.5,210.60 L1187.0,210.95 L1187.5,211.38 L1188.0,211.86 L1188.5,212.38 L1189.0,212.93 L1189.5,213.49 L1190.0,214.05 L1190.5,214.58 L1191.0,215.08 L1191.5,215.53 L1192.0,215.91 L1192.5,216.21 L1193.0,216.41 L1193.5,216.50 L1194.0,216.47 L1194.5,216.35 L1195.0,216.15 L1195.5,215.87 L1196.0,215.54 L1196.5,215.16 L1197.0,214.74 L1197.5,214.30 L1198.0,213.83 L1198.5,213.36 L1199.0,212.90 L1199.5,212.44 L1200.0,212.02 L1200.5,211.63 L1201.0,211.29 L1201.5,211.00 L1202.0,210.79 L1202.5,210.65 L1203.0,210.60 L1203.5,210.64 L1204.0,210.74 L1204.5,210.90 L1205.0,211.10 L1205.5,211.34 L1206.0,211.61 L1206.5,211.90 L1207.0,212.19 L1207.5,212.48 L1208.0,212.75 L1208.5,213.01 L1209.0,213.23 L1209.5,213.40 L1210.0,213.53 L1210.5,213.59 L1211.0,213.59 L1211.5,213.53 L1212.0,213.43 L1212.5,213.29 L1213.0,213.11 L1213.5,212.90 L1214.0,212.67 L1214.5,212.42 L1215.0,212.15 L1215.5,211.87 L1216.0,211.59 L1216.5,211.31 L1217.0,211.04 L1217.5,210.78 L1218.0,210.53 L1218.5,210.31 L1219.0,210.11 L1219.5,209.95 L1220.0,209.82 L1220.5,209.74 L1221.0,209.70 L1221.5,209.71 L1222.0,209.76 L1222.5,209.83 L1223.0,209.93 L1223.5,210.05 L1224.0,210.18 L1224.5,210.32 L1225.0,210.47 L1225.5,210.62 L1226.0,210.77 L1226.5,210.93 L1227.0,211.13 L1227.5,211.37 L1228.0,211.64 L1228.5,211.93 L1229.0,212.22 L1229.5,212.52 L1230.0,212.81 L1230.5,213.08 L1231.0,213.33 L1231.5,213.54 L1232.0,213.71 L1232.5,213.83 L1233.0,213.89 L1233.5,213.88 L1234.0,213.79 L1234.5,213.63 L1235.0,213.41 L1235.5,213.15 L1236.0,212.86 L1236.5,212.55 L1237.0,212.25 L1237.5,211.95 L1238.0,211.67 L1238.5,211.44 L1239.0,211.25 L1239.5,211.13 L1240.0,211.09 L1240.5,211.06 L1241.0,211.03 L1241.5,211.00 L1242.0,210.97 L1242.5,210.95 L1243.0,210.92 L1243.5,210.90 L1244.0,210.88 L1244.5,210.87 L1245.0,210.85 L1245.5,210.84 L1246.0,210.83 L1246.5,210.82 L1247.0,210.81 L1247.5,210.80 L1248.0,210.80 L1248.5,210.80 L1249.0,210.83 L1249.5,210.97 L1250.0,211.18 L1250.5,211.46 L1251.0,211.79 L1251.5,212.15 L1252.0,212.52 L1252.5,212.90 L1253.0,213.24 L1253.5,213.56 L1254.0,213.81 L1254.5,214.00 L1255.0,214.09 L1255.5,214.10 L1256.0,214.10 L1256.5,214.09 L1257.0,214.07 L1257.5,214.04 L1258.0,214.00 L1258.5,213.94 L1259.0,213.85 L1259.5,213.74 L1260.0,213.60" fill="none" stroke="#1f77b4" stroke-width="1.39" stroke-linejoin="round" stroke-linecap="square" clip-path="url(#c0)"/>
<rect x="175.5" y="84.5" width="1085.0" height="245.0" fill="none" stroke="#000" stroke-width="1.11"/>
<text x="717.6" y="76.4" font-size="16.9" text-anchor="middle" textLength="168.6" lengthAdjust="spacingAndGlyphs" fill="#000">X component (cm/s)</text>
<line x1="170.6" y1="314.3" x2="175.5" y2="314.3" stroke="#000" stroke-width="1.11"/>
<text x="164.6" y="320.1" font-size="14.1" text-anchor="end" textLength="16.9" lengthAdjust="spacingAndGlyphs" fill="#000">10</text>
<rect x="138.1" y="315.0" width="9.0" height="1.25" fill="#000"/>
<line x1="170.6" y1="263.3" x2="175.5" y2="263.3" stroke="#000" stroke-width="1.11"/>
<text x="164.6" y="269.1" font-size="14.1" text-anchor="end" textLength="8.6" lengthAdjust="spacingAndGlyphs" fill="#000">5</text>
<rect x="146.1" y="264.0" width="9.0" height="1.25" fill="#000"/>
<line x1="170.6" y1="212.3" x2="175.5" y2="212.3" stroke="#000" stroke-width="1.11"/>
<text x="164.6" y="217.3" font-size="14.1" text-anchor="end" textLength="8.6" lengthAdjust="spacingAndGlyphs" fill="#000">0</text>
<line x1="170.6" y1="161.3" x2="175.5" y2="161.3" stroke="#000" stroke-width="1.11"/>
<text x="164.6" y="166.3" font-size="14.1" text-anchor="end" textLength="8.6" lengthAdjust="spacingAndGlyphs" fill="#000">5</text>
<line x1="170.6" y1="110.30000000000001" x2="175.5" y2="110.30000000000001" stroke="#000" stroke-width="1.11"/>
<text x="164.6" y="115.30000000000001" font-size="14.1" text-anchor="end" textLength="16.9" lengthAdjust="spacingAndGlyphs" fill="#000">10</text>
<line x1="175.5" y1="329.5" x2="175.5" y2="334.4" stroke="#000" stroke-width="1.11"/>
<text x="175.5" y="349.8" font-size="14.1" text-anchor="middle" fill="#000">0</text>
<line x1="311.5" y1="329.5" x2="311.5" y2="334.4" stroke="#000" stroke-width="1.11"/>
<text x="311.125" y="349.8" font-size="14.1" text-anchor="middle" textLength="16.5" lengthAdjust="spacingAndGlyphs" fill="#000">25</text>
<line x1="446.5" y1="329.5" x2="446.5" y2="334.4" stroke="#000" stroke-width="1.11"/>
<text x="446.75" y="349.8" font-size="14.1" text-anchor="middle" textLength="16.5" lengthAdjust="spacingAndGlyphs" fill="#000">50</text>
<line x1="582.5" y1="329.5" x2="582.5" y2="334.4" stroke="#000" stroke-width="1.11"/>
<text x="582.375" y="349.8" font-size="14.1" text-anchor="middle" textLength="16.5" lengthAdjust="spacingAndGlyphs" fill="#000">75</text>
<line x1="718.5" y1="329.5" x2="718.5" y2="334.4" stroke="#000" stroke-width="1.11"/>
<text x="718.0" y="349.8" font-size="14.1" text-anchor="middle" textLength="24.75" lengthAdjust="spacingAndGlyphs" fill="#000">100</text>
<line x1="853.5" y1="329.5" x2="853.5" y2="334.4" stroke="#000" stroke-width="1.11"/>
<text x="853.625" y="349.8" font-size="14.1" text-anchor="middle" textLength="24.75" lengthAdjust="spacingAndGlyphs" fill="#000">125</text>
<line x1="989.5" y1="329.5" x2="989.5" y2="334.4" stroke="#000" stroke-width="1.11"/>
<text x="989.25" y="349.8" font-size="14.1" text-anchor="middle" textLength="24.75" lengthAdjust="spacingAndGlyphs" fill="#000">150</text>
<line x1="1124.5" y1="329.5" x2="1124.5" y2="334.4" stroke="#000" stroke-width="1.11"/>
<text x="1124.875" y="349.8" font-size="14.1" text-anchor="middle" textLength="24.75" lengthAdjust="spacingAndGlyphs" fill="#000">175</text>
<line x1="1260.5" y1="329.5" x2="1260.5" y2="334.4" stroke="#000" stroke-width="1.11"/>
<text x="1260.5" y="349.8" font-size="14.1" text-anchor="middle" textLength="24.75" lengthAdjust="spacingAndGlyphs" fill="#000">200</text>
<rect x="997.5" y="91.5" width="256" height="25" rx="2.8" ry="2.8" fill="#fff" fill-opacity="0.8" stroke="#cccccc" stroke-width="1.11"/>
<line x1="1002.5" y1="103.3" x2="1030.5" y2="103.3" stroke="#1f77b4" stroke-width="1.39" stroke-linecap="square"/>
<text x="1040.3" y="107.0" font-size="14.1" text-anchor="start" textLength="207.8" lengthAdjust="spacingAndGlyphs" fill="#000">Deterministic + site response</text>
<clipPath id="c1"><rect x="175.5" y="378.5" width="1085.0" height="245.0"/></clipPath>
<path d="M175.0,506.00 L175.5,506.00 L176.0,506.00 L176.5,506.00 L177.0,506.00 L177.5,506.00 L178.0,506.00 L178.5,506.00 L179.0,506.00 L179.5,506.00 L180.0,506.00 L180.5,506.00 L181.0,506.00 L181.5,506.00 L182.0,506.00 L182.5,506.00 L183.0,506.00 L183.5,506.00 L184.0,506.00 L184.5,506.00 L185.0,506.00 L185.5,506.00 L186.0,506.00 L186.5,506.00 L187.0,506.00 L187.5,506.00 L188.0,506.00 L188.5,506.00 L189.0,506.00 L189.5,506.00 L190.0,506.00 L190.5,506.00 L191.0,506.00 L191.5,506.00 L192.0,506.00 L192.5,506.00 L193.0,506.00 L193.5,506.00 L194.0,506.00 L194.5,506.00 L195.0,506.00 L195.5,506.00 L196.0,506.00 L196.5,506.00 L197.0,506.00 L197.5,506.00 L198.0,506.00 L198.5,506.00 L199.0,506.00 L199.5,506.00 L200.0,506.00 L200.5,506.00 L201.0,506.00 L201.5,506.00 L202.0,506.00 L202.5,506.00 L203.0,506.00 L203.5,506.00 L204.0,506.00 L204.5,506.00 L205.0,506.00 L205.5,506.00 L206.0,506.00 L206.5,506.00 L207.0,506.00 L207.5,506.00 L208.0,506.00 L208.5,506.00 L209.0,506.00 L209.5,506.00 L210.0,506.00 L210.5,506.00 L211.0,506.00 L211.5,506.00 L212.0,506.00 L212.5,506.00 L213.0,506.00 L213.5,506.00 L214.0,506.00 L214.5,506.00 L215.0,506.00 L215.5,506.00 L216.0,506.00 L216.5,506.00 L217.0,506.00 L217.5,506.00 L218.0,506.00 L218.5,506.00 L219.0,506.00 L219.5,506.00 L220.0,506.00 L220.5,506.00 L221.0,506.00 L221.5,506.00 L222.0,506.00 L222.5,506.00 L223.0,506.00 L223.5,506.00 L224.0,506.00 L224.5,506.00 L225.0,506.00 L225.5,506.00 L226.0,506.00 L226.5,506.00 L227.0,506.00 L227.5,506.00 L228.0,506.00 L228.5,506.00 L229.0,506.00 L229.5,506.00 L230.0,506.00 L230.5,506.00 L231.0,506.00 L231.5,506.00 L232.0,506.00 L232.5,506.00 L233.0,506.00 L233.5,506.00 L234.0,506.00 L234.5,506.00 L235.0,506.00 L235.5,506.00 L236.0,506.00 L236.5,506.00 L237.0,506.00 L237.5,506.00 L238.0,506.00 L238.5,506.00 L239.0,506.00 L239.5,506.00 L240.0,506.00 L240.5,506.00 L241.0,506.00 L241.5,506.00 L242.0,506.00 L242.5,506.00 L243.0,506.00 L243.5,506.00 L244.0,506.00 L244.5,506.00 L245.0,506.00 L245.5,506.00 L246.0,506.00 L246.5,506.00 L247.0,506.00 L247.5,506.00 L248.0,506.00 L248.5,506.00 L249.0,506.00 L249.5,506.00 L250.0,506.00 L250.5,506.00 L251.0,506.00 L251.5,506.00 L252.0,506.00 L252.5,506.00 L253.0,506.00 L253.5,506.00 L254.0,506.00 L254.5,506.00 L255.0,506.00 L255.5,506.00 L256.0,506.00 L256.5,506.00 L257.0,506.00 L257.5,506.00 L258.0,506.00 L258.5,506.00 L259.0,506.00 L259.5,506.00 L260.0,506.00 L260.5,506.00 L261.0,506.00 L261.5,506.00 L262.0,506.00 L262.5,506.00 L263.0,506.00 L263.5,506.00 L264.0,506.00 L264.5,506.00 L265.0,506.00 L265.5,506.00 L266.0,506.00 L266.5,506.00 L267.0,506.00 L267.5,506.00 L268.0,506.00 L268.5,506.00 L269.0,506.00 L269.5,506.00 L270.0,506.00 L270.5,506.00 L271.0,506.00 L271.5,506.00 L272.0,506.00 L272.5,506.00 L273.0,506.00 L273.5,506.00 L274.0,506.00 L274.5,506.00 L275.0,506.00 L275.5,506.00 L276.0,506.00 L276.5,506.00 L277.0,506.00 L277.5,506.00 L278.0,506.00 L278.5,506.00 L279.0,506.00 L279.5,506.00 L280.0,506.00 L280.5,506.00 L281.0,506.00 L281.5,506.00 L282.0,506.00 L282.5,506.00 L283.0,506.00 L283.5,506.00 L284.0,506.00 L284.5,506.00 L285.0,506.00 L285.5,506.00 L286.0,506.00 L286.5,506.00 L287.0,506.00 L287.5,506.00 L288.0,506.00 L288.5,506.00 L289.0,506.00 L289.5,506.00 L290.0,506.00 L290.5,506.00 L291.0,506.00 L291.5,506.00 L292.0,506.00 L292.5,506.00 L293.0,506.00 L293.5,506.00 L294.0,506.00 L294.5,506.00 L295.0,506.00 L295.5,506.00 L296.0,506.00 L296.5,506.00 L297.0,506.00 L297.5,506.00 L298.0,506.00 L298.5,506.00 L299.0,506.00 L299.5,506.00 L300.0,506.00 L300.5,506.00 L301.0,506.00 L301.5,506.00 L302.0,506.00 L302.5,506.00 L303.0,506.00 L303.5,506.00 L304.0,506.00 L304.5,506.00 L305.0,506.00 L305.5,506.00 L306.0,506.00 L306.5,506.00 L307.0,506.00 L307.5,506.00 L308.0,506.00 L308.5,506.00 L309.0,506.00 L309.5,506.00 L310.0,506.00 L310.5,506.00 L311.0,506.00 L311.5,506.00 L312.0,506.00 L312.5,506.00 L313.0,506.00 L313.5,506.00 L314.0,506.00 L314.5,506.00 L315.0,506.00 L315.5,506.00 L316.0,506.00 L316.5,506.00 L317.0,506.00 L317.5,506.00 L318.0,506.00 L318.5,506.00 L319.0,506.00 L319.5,506.00 L320.0,506.00 L320.5,506.00 L321.0,506.00 L321.5,506.00 L322.0,506.00 L322.5,506.00 L323.0,506.00 L323.5,506.00 L324.0,506.00 L324.5,506.00 L325.0,506.00 L325.5,506.00 L326.0,506.00 L326.5,506.00 L327.0,506.00 L327.5,506.00 L328.0,506.00 L328.5,506.00 L329.0,506.00 L329.5,506.00 L330.0,506.00 L330.5,506.00 L331.0,506.00 L331.5,506.00 L332.0,506.00 L332.5,506.00 L333.0,506.00 L333.5,506.00 L334.0,506.00 L334.5,506.00 L335.0,506.00 L335.5,505.99 L336.0,505.98 L336.5,505.97 L337.0,505.96 L337.5,505.95 L338.0,505.93 L338.5,505.91 L339.0,505.89 L339.5,505.87 L340.0,505.85 L340.5,505.82 L341.0,505.80 L341.5,505.77 L342.0,505.74 L342.5,505.72 L343.0,505.69 L343.5,505.66 L344.0,505.63 L344.5,505.60 L345.0,505.57 L345.5,505.54 L346.0,505.51 L346.5,505.48 L347.0,505.45 L347.5,505.43 L348.0,505.40 L348.5,505.37 L349.0,505.34 L349.5,505.31 L350.0,505.27 L350.5,505.24 L351.0,505.20 L351.5,505.16 L352.0,505.12 L352.5,505.08 L353.0,505.03 L353.5,504.99 L354.0,504.94 L354.5,504.90 L355.0,504.86 L355.5,504.81 L356.0,504.77 L356.5,504.72 L357.0,504.68 L357.5,504.64 L358.0,504.60 L358.5,504.56 L359.0,504.53 L359.5,504.49 L360.0,504.46 L360.5,504.43 L361.0,504.40 L361.5,504.38 L362.0,504.35 L362.5,504.34 L363.0,504.32 L363.5,504.31 L364.0,504.30 L364.5,504.30 L365.0,504.33 L365.5,504.46 L366.0,504.63 L366.5,504.83 L367.0,505.01 L367.5,505.15 L368.0,505.20 L368.5,505.19 L369.0,505.18 L369.5,505.16 L370.0,505.13 L370.5,505.10 L371.0,505.07 L371.5,505.05 L372.0,505.02 L372.5,505.01 L373.0,505.00 L373.5,505.00 L374.0,505.01 L374.5,505.01 L375.0,505.02 L375.5,505.03 L376.0,505.05 L376.5,505.06 L377.0,505.08 L377.5,505.09 L378.0,505.11 L378.5,505.13 L379.0,505.14 L379.5,505.16 L380.0,505.17 L380.5,505.18 L381.0,505.19 L381.5,505.20 L382.0,505.20 L382.5,505.19 L383.0,505.13 L383.5,505.01 L384.0,504.85 L384.5,504.68 L385.0,504.52 L385.5,504.39 L386.0,504.31 L386.5,504.32 L387.0,504.49 L387.5,504.79 L388.0,505.15 L388.5,505.51 L389.0,505.81 L389.5,505.98 L390.0,505.98 L390.5,505.89 L391.0,505.75 L391.5,505.59 L392.0,505.47 L392.5,505.40 L393.0,505.42 L393.5,505.51 L394.0,505.66 L394.5,505.85 L395.0,506.08 L395.5,506.32 L396.0,506.57 L396.5,506.82 L397.0,507.05 L397.5,507.26 L398.0,507.42 L398.5,507.54 L399.0,507.65 L399.5,507.77 L400.0,507.87 L400.5,507.97 L401.0,508.07 L401.5,508.15 L402.0,508.21 L402.5,508.26 L403.0,508.29 L403.5,508.30 L404.0,508.18 L404.5,507.93 L405.0,507.60 L405.5,507.23 L406.0,506.86 L406.5,506.56 L407.0,506.36 L407.5,506.30 L408.0,506.41 L408.5,506.63 L409.0,506.93 L409.5,507.27 L410.0,507.59 L410.5,507.87 L411.0,508.05 L411.5,508.10 L412.0,508.01 L412.5,507.82 L413.0,507.57 L413.5,507.29 L414.0,507.02 L414.5,506.79 L415.0,506.64 L415.5,506.60 L416.0,506.62 L416.5,506.66 L417.0,506.71 L417.5,506.77 L418.0,506.87 L418.5,507.08 L419.0,507.36 L419.5,507.67 L420.0,507.96 L420.5,508.19 L421.0,508.30 L421.5,508.29 L422.0,508.26 L422.5,508.21 L423.0,508.13 L423.5,508.04 L424.0,507.93 L424.5,507.82 L425.0,507.69 L425.5,507.56 L426.0,507.39 L426.5,507.09 L427.0,506.69 L427.5,506.24 L428.0,505.79 L428.5,505.39 L429.0,505.08 L429.5,504.92 L430.0,504.95 L430.5,505.23 L431.0,505.66 L431.5,506.14 L432.0,506.57 L432.5,506.85 L433.0,506.88 L433.5,506.70 L434.0,506.37 L434.5,505.93 L435.0,505.45 L435.5,504.97 L436.0,504.56 L436.5,504.25 L437.0,504.10 L437.5,504.10 L438.0,504.10 L438.5,504.10 L439.0,504.10 L439.5,504.10 L440.0,504.10 L440.5,503.98 L441.0,503.65 L441.5,503.16 L442.0,502.57 L442.5,501.94 L443.0,501.30 L443.5,500.73 L444.0,500.27 L444.5,499.98 L445.0,499.90 L445.5,500.03 L446.0,500.30 L446.5,500.71 L447.0,501.20 L447.5,501.77 L448.0,502.37 L448.5,502.98 L449.0,503.70 L449.5,504.73 L450.0,505.98 L450.5,507.37 L451.0,508.79 L451.5,510.17 L452.0,511.40 L452.5,512.39 L453.0,513.06 L453.5,513.30 L454.0,513.00 L454.5,512.18 L455.0,510.93 L455.5,509.37 L456.0,507.59 L456.5,505.69 L457.0,503.79 L457.5,501.97 L458.0,500.36 L458.5,499.04 L459.0,498.12 L459.5,497.71 L460.0,497.99 L460.5,499.07 L461.0,500.81 L461.5,503.05 L462.0,505.62 L462.5,508.37 L463.0,511.14 L463.5,513.76 L464.0,516.07 L464.5,517.93 L465.0,519.15 L465.5,519.60 L466.0,519.47 L466.5,519.12 L467.0,518.56 L467.5,517.84 L468.0,516.98 L468.5,516.02 L469.0,514.99 L469.5,513.91 L470.0,512.82 L470.5,511.76 L471.0,510.75 L471.5,509.82 L472.0,508.81 L472.5,507.66 L473.0,506.41 L473.5,505.10 L474.0,503.77 L474.5,502.45 L475.0,501.17 L475.5,499.98 L476.0,498.91 L476.5,498.01 L477.0,497.29 L477.5,496.82 L478.0,496.61 L478.5,496.86 L479.0,497.83 L479.5,499.41 L480.0,501.47 L480.5,503.90 L481.0,506.56 L481.5,509.33 L482.0,512.09 L482.5,514.71 L483.0,517.07 L483.5,519.05 L484.0,520.52 L484.5,521.35 L485.0,521.40 L485.5,520.30 L486.0,518.22 L486.5,515.38 L487.0,512.05 L487.5,508.45 L488.0,504.85 L488.5,501.48 L489.0,498.59 L489.5,496.42 L490.0,494.86 L490.5,493.31 L491.0,491.87 L491.5,490.66 L492.0,489.80 L492.5,489.41 L493.0,489.81 L493.5,491.30 L494.0,493.54 L494.5,496.20 L495.0,498.93 L495.5,501.38 L496.0,503.21 L496.5,504.07 L497.0,503.87 L497.5,503.01 L498.0,501.65 L498.5,499.92 L499.0,497.97 L499.5,495.93 L500.0,493.96 L500.5,492.17 L501.0,490.73 L501.5,489.75 L502.0,489.40 L502.5,489.64 L503.0,490.31 L503.5,491.30 L504.0,492.52 L504.5,493.88 L505.0,495.30 L505.5,497.48 L506.0,500.56 L506.5,504.26 L507.0,508.29 L507.5,512.37 L508.0,516.23 L508.5,519.58 L509.0,522.15 L509.5,523.64 L510.0,523.79 L510.5,522.69 L511.0,520.76 L511.5,518.40 L512.0,516.04 L512.5,514.11 L513.0,513.01 L513.5,513.01 L514.0,513.55 L514.5,514.31 L515.0,515.01 L515.5,515.39 L516.0,515.32 L516.5,515.01 L517.0,514.52 L517.5,513.87 L518.0,513.11 L518.5,512.27 L519.0,511.03 L519.5,508.80 L520.0,505.84 L520.5,502.47 L521.0,498.99 L521.5,495.69 L522.0,492.88 L522.5,490.86 L523.0,489.93 L523.5,490.45 L524.0,492.43 L524.5,495.46 L525.0,499.09 L525.5,502.89 L526.0,506.42 L526.5,509.25 L527.0,510.94 L527.5,511.54 L528.0,511.92 L528.5,512.21 L529.0,512.50 L529.5,512.88 L530.0,513.50 L530.5,514.76 L531.0,516.55 L531.5,518.67 L532.0,520.92 L532.5,523.07 L533.0,524.92 L533.5,526.26 L534.0,526.88 L534.5,526.70 L535.0,525.97 L535.5,524.81 L536.0,523.35 L536.5,521.71 L537.0,519.87 L537.5,516.68 L538.0,512.40 L538.5,507.65 L539.0,503.08 L539.5,499.33 L540.0,497.02 L540.5,496.70 L541.0,497.68 L541.5,499.37 L542.0,501.35 L542.5,503.21 L543.0,504.52 L543.5,504.88 L544.0,504.21 L544.5,502.76 L545.0,500.74 L545.5,498.36 L546.0,495.86 L546.5,493.39 L547.0,489.98 L547.5,485.67 L548.0,481.24 L548.5,477.44 L549.0,475.05 L549.5,474.72 L550.0,475.95 L550.5,478.27 L551.0,481.36 L551.5,484.92 L552.0,488.62 L552.5,492.15 L553.0,495.21 L553.5,497.49 L554.0,499.38 L554.5,501.13 L555.0,502.74 L555.5,504.19 L556.0,505.47 L556.5,506.66 L557.0,507.89 L557.5,509.05 L558.0,510.04 L558.5,510.76 L559.0,511.09 L559.5,510.66 L560.0,509.01 L560.5,506.41 L561.0,503.13 L561.5,499.46 L562.0,495.68 L562.5,492.07 L563.0,488.91 L563.5,486.48 L564.0,485.05 L564.5,485.03 L565.0,487.28 L565.5,491.28 L566.0,496.15 L566.5,501.05 L567.0,505.12 L567.5,507.61 L568.0,509.20 L568.5,510.65 L569.0,512.56 L569.5,515.73 L570.0,519.85 L570.5,524.19 L571.0,528.03 L571.5,530.66 L572.0,531.36 L572.5,530.24 L573.0,527.85 L573.5,524.64 L574.0,521.05 L574.5,517.51 L575.0,514.47 L575.5,512.37 L576.0,511.26 L576.5,510.47 L577.0,509.75 L577.5,508.90 L578.0,507.62 L578.5,506.01 L579.0,504.45 L579.5,503.33 L580.0,503.05 L580.5,504.50 L581.0,507.58 L581.5,511.69 L582.0,516.28 L582.5,520.74 L583.0,524.51 L583.5,527.01 L584.0,527.64 L584.5,525.82 L585.0,521.94 L585.5,516.71 L586.0,510.86 L586.5,505.07 L587.0,500.06 L587.5,496.53 L588.0,495.20 L588.5,496.57 L589.0,499.97 L589.5,504.31 L590.0,508.53 L590.5,511.59 L591.0,513.79 L591.5,515.73 L592.0,517.60 L592.5,519.60 L593.0,521.71 L593.5,524.14 L594.0,527.49 L594.5,531.64 L595.0,536.29 L595.5,541.09 L596.0,545.75 L596.5,549.93 L597.0,553.31 L597.5,555.57 L598.0,556.40 L598.5,555.39 L599.0,552.63 L599.5,548.55 L600.0,543.59 L600.5,538.17 L601.0,532.73 L601.5,527.68 L602.0,523.46 L602.5,520.50 L603.0,518.87 L603.5,517.74 L604.0,516.56 L604.5,514.82 L605.0,512.43 L605.5,509.31 L606.0,505.30 L606.5,498.59 L607.0,488.26 L607.5,475.58 L608.0,461.77 L608.5,448.08 L609.0,435.75 L609.5,425.95 L610.0,417.45 L610.5,409.79 L611.0,403.61 L611.5,398.65 L612.0,394.03 L612.5,390.75 L613.0,389.85 L613.5,391.44 L614.0,394.57 L614.5,398.35 L615.0,402.54 L615.5,407.98 L616.0,414.42 L616.5,421.61 L617.0,429.32 L617.5,439.29 L618.0,451.46 L618.5,464.59 L619.0,477.45 L619.5,488.79 L620.0,497.38 L620.5,502.26 L621.0,505.31 L621.5,507.58 L622.0,509.58 L622.5,511.84 L623.0,514.86 L623.5,519.45 L624.0,526.11 L624.5,534.30 L625.0,543.44 L625.5,552.96 L626.0,562.27 L626.5,570.80 L627.0,577.98 L627.5,583.44 L628.0,588.63 L628.5,593.79 L629.0,598.70 L629.5,603.15 L630.0,606.91 L630.5,609.78 L631.0,611.54 L631.5,611.94 L632.0,610.10 L632.5,606.10 L633.0,600.56 L633.5,594.07 L634.0,587.24 L634.5,580.68 L635.0,575.00 L635.5,569.43 L636.0,563.11 L636.5,556.53 L637.0,550.17 L637.5,544.50 L638.0,540.01 L638.5,537.16 L639.0,536.40 L639.5,536.50 L640.0,536.69 L640.5,536.89 L641.0,537.05 L641.5,537.07 L642.0,536.21 L642.5,534.20 L643.0,531.16 L643.5,527.19 L644.0,522.40 L644.5,516.92 L645.0,510.56 L645.5,495.74 L646.0,474.05 L646.5,452.30 L647.0,437.29 L647.5,430.68 L648.0,425.37 L648.5,421.87 L649.0,420.93 L649.5,421.72 L650.0,423.33 L650.5,425.35 L651.0,427.37 L651.5,428.98 L652.0,429.77 L652.5,429.23 L653.0,427.16 L653.5,423.96 L654.0,420.08 L654.5,415.94 L655.0,411.97 L655.5,408.61 L656.0,406.27 L656.5,405.40 L657.0,406.63 L657.5,409.97 L658.0,414.85 L658.5,420.75 L659.0,429.83 L659.5,445.94 L660.0,466.47 L660.5,488.61 L661.0,509.57 L661.5,526.74 L662.0,543.93 L662.5,561.60 L663.0,577.03 L663.5,587.47 L664.0,590.34 L664.5,588.32 L665.0,583.88 L665.5,577.64 L666.0,570.20 L666.5,562.15 L667.0,554.10 L667.5,546.66 L668.0,540.42 L668.5,535.98 L669.0,533.96 L669.5,534.80 L670.0,538.11 L670.5,543.22 L671.0,549.46 L671.5,556.17 L672.0,562.68 L672.5,568.32 L673.0,572.43 L673.5,574.34 L674.0,573.64 L674.5,570.75 L675.0,565.99 L675.5,559.68 L676.0,552.15 L676.5,543.71 L677.0,534.68 L677.5,525.40 L678.0,516.18 L678.5,507.33 L679.0,499.19 L679.5,492.07 L680.0,486.29 L680.5,482.01 L681.0,478.00 L681.5,473.99 L682.0,470.10 L682.5,466.42 L683.0,463.05 L683.5,460.11 L684.0,457.68 L684.5,455.87 L685.0,454.78 L685.5,454.52 L686.0,455.11 L686.5,456.48 L687.0,458.49 L687.5,461.06 L688.0,464.05 L688.5,467.38 L689.0,470.92 L689.5,474.56 L690.0,478.20 L690.5,481.72 L691.0,485.61 L691.5,490.73 L692.0,496.53 L692.5,502.40 L693.0,507.76 L693.5,512.00 L694.0,514.54 L694.5,514.93 L695.0,514.19 L695.5,512.83 L696.0,511.06 L696.5,509.10 L697.0,507.16 L697.5,505.46 L698.0,504.20 L698.5,503.62 L699.0,503.63 L699.5,503.72 L700.0,503.85 L700.5,503.98 L701.0,504.07 L701.5,504.08 L702.0,503.32 L702.5,501.68 L703.0,499.40 L703.5,496.70 L704.0,493.84 L704.5,491.05 L705.0,488.57 L705.5,486.64 L706.0,485.50 L706.5,485.41 L707.0,486.51 L707.5,488.60 L708.0,491.45 L708.5,494.79 L709.0,498.38 L709.5,501.97 L710.0,505.30 L710.5,508.54 L711.0,512.00 L711.5,515.63 L712.0,519.39 L712.5,523.25 L713.0,527.16 L713.5,531.09 L714.0,535.00 L714.5,539.35 L715.0,544.40 L715.5,549.78 L716.0,555.14 L716.5,560.11 L717.0,564.32 L717.5,567.42 L718.0,569.05 L718.5,568.82 L719.0,566.64 L719.5,562.75 L720.0,557.40 L720.5,550.88 L721.0,543.43 L721.5,535.33 L722.0,526.85 L722.5,518.24 L723.0,509.78 L723.5,501.72 L724.0,494.34 L724.5,487.90 L725.0,482.63 L725.5,477.86 L726.0,473.30 L726.5,469.13 L727.0,465.50 L727.5,462.57 L728.0,460.23 L728.5,458.25 L729.0,456.47 L729.5,454.75 L730.0,452.92 L730.5,450.79 L731.0,448.07 L731.5,445.03 L732.0,442.02 L732.5,439.42 L733.0,437.59 L733.5,436.90 L734.0,437.42 L734.5,438.87 L735.0,441.08 L735.5,443.88 L736.0,447.10 L736.5,453.10 L737.0,463.24 L737.5,475.85 L738.0,489.24 L738.5,501.75 L739.0,511.80 L739.5,521.19 L740.0,530.99 L740.5,540.91 L741.0,550.66 L741.5,559.93 L742.0,568.44 L742.5,575.88 L743.0,581.97 L743.5,586.40 L744.0,588.87 L744.5,589.18 L745.0,587.90 L745.5,585.30 L746.0,581.53 L746.5,576.69 L747.0,570.93 L747.5,564.37 L748.0,557.13 L748.5,549.35 L749.0,541.15 L749.5,532.66 L750.0,524.01 L750.5,515.32 L751.0,506.73 L751.5,498.22 L752.0,486.85 L752.5,474.47 L753.0,465.35 L753.5,460.85 L754.0,456.88 L754.5,453.37 L755.0,450.37 L755.5,447.96 L756.0,446.20 L756.5,445.16 L757.0,444.92 L757.5,445.61 L758.0,447.14 L758.5,449.37 L759.0,452.13 L759.5,455.26 L760.0,458.60 L760.5,463.31 L761.0,470.18 L761.5,478.47 L762.0,487.45 L762.5,496.38 L763.0,504.53 L763.5,511.22 L764.0,517.58 L764.5,524.20 L765.0,530.88 L765.5,537.45 L766.0,543.71 L766.5,549.47 L767.0,554.55 L767.5,558.76 L768.0,561.91 L768.5,563.81 L769.0,564.26 L769.5,562.88 L770.0,559.74 L770.5,555.11 L771.0,549.28 L771.5,542.50 L772.0,535.06 L772.5,527.23 L773.0,519.28 L773.5,511.48 L774.0,504.11 L774.5,497.13 L775.0,488.76 L775.5,480.76 L776.0,475.70 L776.5,473.10 L777.0,470.78 L777.5,468.81 L778.0,467.22 L778.5,466.06 L779.0,465.37 L779.5,465.21 L780.0,465.47 L780.5,466.06 L781.0,466.92 L781.5,468.00 L782.0,469.22 L782.5,470.63 L783.0,472.97 L783.5,476.30 L784.0,480.40 L784.5,485.10 L785.0,490.20 L785.5,495.53 L786.0,500.88 L786.5,506.08 L787.0,511.01 L787.5,516.81 L788.0,520.40 L788.5,522.28 L789.0,523.98 L789.5,525.49 L790.0,526.82 L790.5,527.96 L791.0,528.90 L791.5,529.65 L792.0,530.20 L792.5,530.55 L793.0,530.70 L793.5,530.53 L794.0,529.87 L794.5,528.81 L795.0,527.42 L795.5,525.78 L796.0,523.98 L796.5,522.09 L797.0,520.22 L797.5,518.42 L798.0,516.78 L798.5,514.96 L799.0,512.91 L799.5,510.80 L800.0,508.78 L800.5,507.01 L801.0,505.67 L801.5,504.89 L802.0,504.41 L802.5,504.32 L803.0,504.57 L803.5,504.97 L804.0,505.42 L804.5,505.80 L805.0,505.99 L805.5,505.84 L806.0,505.22 L806.5,504.25 L807.0,503.01 L807.5,501.63 L808.0,500.18 L808.5,498.78 L809.0,497.53 L809.5,496.53 L810.0,495.88 L810.5,495.64 L811.0,495.53 L811.5,495.44 L812.0,495.37 L812.5,495.31 L813.0,495.23 L813.5,495.14 L814.0,495.03 L814.5,494.90 L815.0,494.76 L815.5,494.61 L816.0,494.45 L816.5,494.26 L817.0,494.06 L817.5,493.82 L818.0,493.57 L818.5,493.26 L819.0,492.70 L819.5,491.96 L820.0,491.16 L820.5,490.43 L821.0,489.90 L821.5,489.70 L822.0,490.13 L822.5,491.28 L823.0,492.98 L823.5,495.04 L824.0,497.26 L824.5,499.46 L825.0,501.45 L825.5,503.04 L826.0,504.05 L826.5,504.36 L827.0,504.47 L827.5,504.54 L828.0,504.60 L828.5,504.66 L829.0,504.73 L829.5,504.84 L830.0,505.06 L830.5,505.58 L831.0,506.37 L831.5,507.39 L832.0,508.57 L832.5,509.88 L833.0,511.25 L833.5,512.63 L834.0,514.21 L834.5,516.35 L835.0,518.91 L835.5,521.71 L836.0,524.58 L836.5,527.35 L837.0,529.85 L837.5,531.90 L838.0,533.33 L838.5,533.98 L839.0,533.77 L839.5,532.91 L840.0,531.54 L840.5,529.78 L841.0,527.75 L841.5,525.61 L842.0,523.46 L842.5,521.44 L843.0,519.66 L843.5,517.89 L844.0,516.01 L844.5,514.08 L845.0,512.17 L845.5,510.34 L846.0,508.64 L846.5,507.15 L847.0,505.91 L847.5,504.92 L848.0,504.04 L848.5,503.29 L849.0,502.70 L849.5,502.22 L850.0,501.75 L850.5,501.30 L851.0,500.88 L851.5,500.50 L852.0,500.18 L852.5,499.91 L853.0,499.72 L853.5,499.62 L854.0,499.61 L854.5,499.66 L855.0,499.76 L855.5,499.87 L856.0,499.98 L856.5,500.07 L857.0,500.10 L857.5,500.00 L858.0,499.72 L858.5,499.29 L859.0,498.74 L859.5,498.08 L860.0,497.35 L860.5,496.57 L861.0,495.78 L861.5,494.95 L862.0,493.75 L862.5,492.21 L863.0,490.42 L863.5,488.50 L864.0,486.56 L864.5,484.71 L865.0,483.04 L865.5,481.68 L866.0,480.74 L866.5,480.31 L867.0,480.62 L867.5,481.77 L868.0,483.55 L868.5,485.71 L869.0,488.03 L869.5,490.39 L870.0,493.65 L870.5,497.78 L871.0,502.49 L871.5,507.48 L872.0,512.46 L872.5,517.14 L873.0,521.22 L873.5,524.39 L874.0,526.37 L874.5,526.89 L875.0,526.50 L875.5,525.64 L876.0,524.36 L876.5,522.77 L877.0,520.93 L877.5,518.93 L878.0,516.85 L878.5,514.77 L879.0,512.77 L879.5,510.93 L880.0,509.34 L880.5,508.06 L881.0,507.20 L881.5,506.81 L882.0,506.85 L882.5,507.01 L883.0,507.28 L883.5,507.61 L884.0,507.97 L884.5,508.37 L885.0,508.99 L885.5,509.84 L886.0,510.87 L886.5,512.02 L887.0,513.25 L887.5,514.50 L888.0,515.72 L888.5,516.86 L889.0,517.86 L889.5,518.68 L890.0,519.27 L890.5,519.57 L891.0,519.48 L891.5,518.76 L892.0,517.50 L892.5,515.80 L893.0,513.77 L893.5,511.50 L894.0,509.12 L894.5,506.71 L895.0,504.39 L895.5,502.26 L896.0,500.42 L896.5,498.79 L897.0,497.04 L897.5,495.21 L898.0,493.35 L898.5,491.53 L899.0,489.79 L899.5,488.20 L900.0,486.81 L900.5,485.67 L901.0,484.84 L901.5,484.38 L902.0,484.34 L902.5,484.79 L903.0,485.66 L903.5,486.90 L904.0,488.42 L904.5,490.16 L905.0,492.06 L905.5,494.02 L906.0,496.00 L906.5,497.90 L907.0,499.68 L907.5,501.24 L908.0,502.54 L908.5,503.65 L909.0,504.66 L909.5,505.61 L910.0,506.53 L910.5,507.47 L911.0,508.44 L911.5,509.49 L912.0,510.65 L912.5,512.04 L913.0,513.79 L913.5,515.81 L914.0,518.00 L914.5,520.27 L915.0,522.51 L915.5,524.64 L916.0,526.54 L916.5,528.14 L917.0,529.31 L917.5,529.98 L918.0,530.03 L918.5,529.28 L919.0,527.80 L919.5,525.71 L920.0,523.12 L920.5,520.14 L921.0,516.89 L921.5,513.48 L922.0,510.03 L922.5,506.65 L923.0,503.45 L923.5,500.55 L924.0,498.07 L924.5,496.11 L925.0,494.80 L925.5,493.85 L926.0,492.94 L926.5,492.13 L927.0,491.50 L927.5,491.11 L928.0,491.00 L928.5,491.10 L929.0,491.31 L929.5,491.61 L930.0,491.99 L930.5,492.40 L931.0,492.84 L931.5,493.27 L932.0,493.67 L932.5,494.03 L933.0,494.30 L933.5,494.51 L934.0,494.69 L934.5,494.84 L935.0,494.98 L935.5,495.10 L936.0,495.22 L936.5,495.33 L937.0,495.46 L937.5,495.59 L938.0,495.75 L938.5,495.93 L939.0,496.15 L939.5,496.40 L940.0,496.70 L940.5,497.19 L941.0,497.98 L941.5,499.00 L942.0,500.20 L942.5,501.50 L943.0,502.86 L943.5,504.30 L944.0,506.16 L944.5,508.40 L945.0,510.94 L945.5,513.70 L946.0,516.61 L946.5,519.57 L947.0,522.52 L947.5,525.37 L948.0,528.05 L948.5,530.46 L949.0,532.54 L949.5,534.20 L950.0,535.36 L950.5,535.95 L951.0,535.88 L951.5,535.20 L952.0,533.98 L952.5,532.28 L953.0,530.19 L953.5,527.77 L954.0,525.11 L954.5,522.27 L955.0,519.34 L955.5,516.38 L956.0,513.47 L956.5,510.68 L957.0,508.09 L957.5,505.51 L958.0,502.51 L958.5,499.22 L959.0,495.75 L959.5,492.24 L960.0,488.83 L960.5,485.64 L961.0,482.81 L961.5,480.47 L962.0,478.74 L962.5,477.77 L963.0,477.65 L963.5,478.14 L964.0,479.11 L964.5,480.45 L965.0,482.09 L965.5,483.92 L966.0,485.86 L966.5,487.81 L967.0,489.69 L967.5,491.41 L968.0,492.87 L968.5,494.18 L969.0,495.42 L969.5,496.63 L970.0,497.82 L970.5,499.04 L971.0,500.31 L971.5,501.65 L972.0,503.10 L972.5,504.75 L973.0,506.74 L973.5,509.01 L974.0,511.49 L974.5,514.11 L975.0,516.81 L975.5,519.52 L976.0,522.17 L976.5,524.70 L977.0,527.04 L977.5,529.12 L978.0,530.89 L978.5,532.26 L979.0,533.19 L979.5,533.59 L980.0,533.41 L980.5,532.67 L981.0,531.43 L981.5,529.73 L982.0,527.65 L982.5,525.23 L983.0,522.52 L983.5,519.60 L984.0,516.50 L984.5,513.30 L985.0,510.04 L985.5,506.78 L986.0,503.58 L986.5,500.49 L987.0,497.57 L987.5,494.88 L988.0,492.47 L988.5,490.28 L989.0,487.87 L989.5,485.33 L990.0,482.83 L990.5,480.51 L991.0,478.52 L991.5,477.02 L992.0,476.15 L992.5,476.03 L993.0,476.37 L993.5,477.02 L994.0,477.95 L994.5,479.09 L995.0,480.38 L995.5,481.78 L996.0,483.23 L996.5,484.74 L997.0,486.88 L997.5,489.67 L998.0,492.98 L998.5,496.67 L999.0,500.63 L999.5,504.70 L1000.0,508.77 L1000.5,512.70 L1001.0,516.35 L1001.5,519.60 L1002.0,522.30 L1002.5,524.34 L1003.0,525.58 L1003.5,525.89 L1004.0,525.61 L1004.5,524.97 L1005.0,524.02 L1005.5,522.82 L1006.0,521.41 L1006.5,519.84 L1007.0,518.18 L1007.5,516.47 L1008.0,514.76 L1008.5,513.11 L1009.0,511.56 L1009.5,510.17 L1010.0,508.99 L1010.5,508.08 L1011.0,507.48 L1011.5,507.13 L1012.0,506.84 L1012.5,506.61 L1013.0,506.45 L1013.5,506.34 L1014.0,506.28 L1014.5,506.23 L1015.0,506.18 L1015.5,506.14 L1016.0,506.07 L1016.5,505.97 L1017.0,505.64 L1017.5,505.01 L1018.0,504.15 L1018.5,503.09 L1019.0,501.88 L1019.5,500.59 L1020.0,499.24 L1020.5,497.90 L1021.0,496.61 L1021.5,495.42 L1022.0,494.38 L1022.5,493.53 L1023.0,492.93 L1023.5,492.63 L1024.0,492.63 L1024.5,492.82 L1025.0,493.17 L1025.5,493.65 L1026.0,494.26 L1026.5,494.97 L1027.0,495.77 L1027.5,496.65 L1028.0,497.58 L1028.5,498.55 L1029.0,499.54 L1029.5,500.54 L1030.0,501.53 L1030.5,502.50 L1031.0,503.63 L1031.5,505.00 L1032.0,506.57 L1032.5,508.30 L1033.0,510.14 L1033.5,512.06 L1034.0,514.03 L1034.5,516.00 L1035.0,517.93 L1035.5,519.79 L1036.0,521.53 L1036.5,523.13 L1037.0,524.54 L1037.5,525.71 L1038.0,526.62 L1038.5,527.23 L1039.0,527.49 L1039.5,527.38 L1040.0,526.93 L1040.5,526.15 L1041.0,525.08 L1041.5,523.75 L1042.0,522.19 L1042.5,520.42 L1043.0,518.47 L1043.5,516.38 L1044.0,514.16 L1044.5,511.85 L1045.0,509.49 L1045.5,507.08 L1046.0,504.67 L1046.5,502.29 L1047.0,499.95 L1047.5,497.70 L1048.0,495.55 L1048.5,493.54 L1049.0,491.70 L1049.5,490.05 L1050.0,488.62 L1050.5,487.44 L1051.0,486.55 L1051.5,485.96 L1052.0,485.71 L1052.5,485.77 L1053.0,486.04 L1053.5,486.48 L1054.0,487.08 L1054.5,487.80 L1055.0,488.63 L1055.5,489.53 L1056.0,490.47 L1056.5,491.44 L1057.0,492.41 L1057.5,493.47 L1058.0,494.86 L1058.5,496.52 L1059.0,498.43 L1059.5,500.53 L1060.0,502.79 L1060.5,505.15 L1061.0,507.58 L1061.5,510.02 L1062.0,512.45 L1062.5,514.80 L1063.0,517.04 L1063.5,519.13 L1064.0,521.01 L1064.5,522.66 L1065.0,524.01 L1065.5,525.03 L1066.0,525.68 L1066.5,525.90 L1067.0,525.76 L1067.5,525.35 L1068.0,524.70 L1068.5,523.83 L1069.0,522.75 L1069.5,521.51 L1070.0,520.10 L1070.5,518.57 L1071.0,516.93 L1071.5,515.20 L1072.0,513.41 L1072.5,511.58 L1073.0,509.73 L1073.5,507.88 L1074.0,506.07 L1074.5,504.30 L1075.0,502.60 L1075.5,501.00 L1076.0,499.52 L1076.5,498.17 L1077.0,496.99 L1077.5,496.00 L1078.0,495.21 L1078.5,494.65 L1079.0,494.35 L1079.5,494.33 L1080.0,494.60 L1080.5,495.13 L1081.0,495.90 L1081.5,496.84 L1082.0,497.92 L1082.5,499.11 L1083.0,500.35 L1083.5,501.60 L1084.0,502.84 L1084.5,504.00 L1085.0,505.06 L1085.5,505.97 L1086.0,506.69 L1086.5,507.18 L1087.0,507.39 L1087.5,507.36 L1088.0,507.21 L1088.5,506.96 L1089.0,506.64 L1089.5,506.26 L1090.0,505.85 L1090.5,505.42 L1091.0,505.00 L1091.5,504.61 L1092.0,504.26 L1092.5,503.98 L1093.0,503.79 L1093.5,503.70 L1094.0,503.75 L1094.5,503.95 L1095.0,504.27 L1095.5,504.68 L1096.0,505.18 L1096.5,505.72 L1097.0,506.29 L1097.5,506.87 L1098.0,507.42 L1098.5,507.92 L1099.0,508.36 L1099.5,508.70 L1100.0,508.92 L1100.5,509.00 L1101.0,508.91 L1101.5,508.67 L1102.0,508.30 L1102.5,507.83 L1103.0,507.29 L1103.5,506.69 L1104.0,506.08 L1104.5,505.47 L1105.0,504.89 L1105.5,504.37 L1106.0,503.94 L1106.5,503.61 L1107.0,503.43 L1107.5,503.41 L1108.0,503.58 L1108.5,503.89 L1109.0,504.35 L1109.5,504.91 L1110.0,505.56 L1110.5,506.28 L1111.0,507.05 L1111.5,507.83 L1112.0,508.61 L1112.5,509.37 L1113.0,510.07 L1113.5,510.71 L1114.0,511.25 L1114.5,511.68 L1115.0,511.97 L1115.5,512.10 L1116.0,512.05 L1116.5,511.85 L1117.0,511.52 L1117.5,511.08 L1118.0,510.53 L1118.5,509.90 L1119.0,509.20 L1119.5,508.44 L1120.0,507.65 L1120.5,506.83 L1121.0,506.01 L1121.5,505.19 L1122.0,504.41 L1122.5,503.66 L1123.0,502.97 L1123.5,502.35 L1124.0,501.82 L1124.5,501.40 L1125.0,501.10 L1125.5,500.93 L1126.0,500.91 L1126.5,501.00 L1127.0,501.18 L1127.5,501.44 L1128.0,501.75 L1128.5,502.11 L1129.0,502.49 L1129.5,502.89 L1130.0,503.29 L1130.5,503.67 L1131.0,504.02 L1131.5,504.32 L1132.0,504.56 L1132.5,504.73 L1133.0,504.80 L1133.5,504.78 L1134.0,504.69 L1134.5,504.54 L1135.0,504.34 L1135.5,504.11 L1136.0,503.84 L1136.5,503.56 L1137.0,503.27 L1137.5,502.98 L1138.0,502.70 L1138.5,502.44 L1139.0,502.22 L1139.5,502.03 L1140.0,501.89 L1140.5,501.81 L1141.0,501.81 L1141.5,501.97 L1142.0,502.27 L1142.5,502.71 L1143.0,503.27 L1143.5,503.93 L1144.0,504.67 L1144.5,505.48 L1145.0,506.34 L1145.5,507.23 L1146.0,508.13 L1146.5,509.03 L1147.0,509.91 L1147.5,510.75 L1148.0,511.53 L1148.5,512.25 L1149.0,512.87 L1149.5,513.38 L1150.0,513.77 L1150.5,514.01 L1151.0,514.10 L1151.5,514.06 L1152.0,513.95 L1152.5,513.77 L1153.0,513.53 L1153.5,513.24 L1154.0,512.90 L1154.5,512.51 L1155.0,512.08 L1155.5,511.63 L1156.0,511.14 L1156.5,510.64 L1157.0,510.12 L1157.5,509.59 L1158.0,509.06 L1158.5,508.53 L1159.0,508.01 L1159.5,507.50 L1160.0,506.94 L1160.5,506.27 L1161.0,505.51 L1161.5,504.68 L1162.0,503.79 L1162.5,502.87 L1163.0,501.93 L1163.5,500.99 L1164.0,500.06 L1164.5,499.17 L1165.0,498.34 L1165.5,497.58 L1166.0,496.91 L1166.5,496.35 L1167.0,495.92 L1167.5,495.63 L1168.0,495.50 L1168.5,495.56 L1169.0,495.79 L1169.5,496.19 L1170.0,496.73 L1170.5,497.40 L1171.0,498.19 L1171.5,499.08 L1172.0,500.06 L1172.5,501.10 L1173.0,502.21 L1173.5,503.35 L1174.0,504.52 L1174.5,505.70 L1175.0,506.88 L1175.5,508.04 L1176.0,509.16 L1176.5,510.23 L1177.0,511.24 L1177.5,512.17 L1178.0,513.00 L1178.5,513.72 L1179.0,514.31 L1179.5,514.77 L1180.0,515.07 L1180.5,515.20 L1181.0,515.15 L1181.5,514.94 L1182.0,514.59 L1182.5,514.10 L1183.0,513.51 L1183.5,512.80 L1184.0,512.01 L1184.5,511.15 L1185.0,510.22 L1185.5,509.25 L1186.0,508.24 L1186.5,507.21 L1187.0,506.18 L1187.5,505.16 L1188.0,504.16 L1188.5,503.19 L1189.0,502.27 L1189.5,501.42 L1190.0,500.65 L1190.5,499.97 L1191.0,499.39 L1191.5,498.93 L1192.0,498.61 L1192.5,498.43 L1193.0,498.41 L1193.5,498.53 L1194.0,498.78 L1194.5,499.14 L1195.0,499.59 L1195.5,500.14 L1196.0,500.77 L1196.5,501.46 L1197.0,502.21 L1197.5,503.00 L1198.0,503.82 L1198.5,504.66 L1199.0,505.50 L1199.5,506.35 L1200.0,507.18 L1200.5,507.98 L1201.0,508.75 L1201.5,509.46 L1202.0,510.12 L1202.5,510.70 L1203.0,511.19 L1203.5,511.59 L1204.0,511.88 L1204.5,512.06 L1205.0,512.10 L1205.5,512.01 L1206.0,511.80 L1206.5,511.49 L1207.0,511.08 L1207.5,510.58 L1208.0,510.01 L1208.5,509.38 L1209.0,508.69 L1209.5,507.96 L1210.0,507.21 L1210.5,506.43 L1211.0,505.64 L1211.5,504.86 L1212.0,504.09 L1212.5,503.34 L1213.0,502.63 L1213.5,501.96 L1214.0,501.35 L1214.5,500.81 L1215.0,500.35 L1215.5,499.97 L1216.0,499.70 L1216.5,499.54 L1217.0,499.50 L1217.5,499.60 L1218.0,499.83 L1218.5,500.17 L1219.0,500.61 L1219.5,501.13 L1220.0,501.73 L1220.5,502.38 L1221.0,503.07 L1221.5,503.79 L1222.0,504.52 L1222.5,505.26 L1223.0,505.97 L1223.5,506.66 L1224.0,507.30 L1224.5,507.88 L1225.0,508.39 L1225.5,508.81 L1226.0,509.13 L1226.5,509.33 L1227.0,509.40 L1227.5,509.35 L1228.0,509.21 L1228.5,508.99 L1229.0,508.70 L1229.5,508.36 L1230.0,507.97 L1230.5,507.55 L1231.0,507.12 L1231.5,506.67 L1232.0,506.23 L1232.5,505.81 L1233.0,505.42 L1233.5,505.06 L1234.0,504.76 L1234.5,504.53 L1235.0,504.37 L1235.5,504.30 L1236.0,504.31 L1236.5,504.37 L1237.0,504.46 L1237.5,504.59 L1238.0,504.75 L1238.5,504.93 L1239.0,505.14 L1239.5,505.37 L1240.0,505.62 L1240.5,505.87 L1241.0,506.14 L1241.5,506.41 L1242.0,506.69 L1242.5,506.96 L1243.0,507.23 L1243.5,507.48 L1244.0,507.73 L1244.5,507.96 L1245.0,508.17 L1245.5,508.35 L1246.0,508.51 L1246.5,508.64 L1247.0,508.73 L1247.5,508.79 L1248.0,508.80 L1248.5,508.77 L1249.0,508.70 L1249.5,508.59 L1250.0,508.44 L1250.5,508.25 L1251.0,508.02 L1251.5,507.76 L1252.0,507.47 L1252.5,507.14 L1253.0,506.78 L1253.5,506.39 L1254.0,505.96 L1254.5,505.51 L1255.0,505.04 L1255.5,504.53 L1256.0,504.00 L1256.5,503.45 L1257.0,502.87 L1257.5,502.27 L1258.0,501.66 L1258.5,501.02 L1259.0,500.36 L1259.5,499.69 L1260.0,499.00" fill="none" stroke="#1f77b4" stroke-width="1.39" stroke-linejoin="round" stroke-linecap="square" clip-path="url(#c1)"/>
<rect x="175.5" y="378.5" width="1085.0" height="245.0" fill="none" stroke="#000" stroke-width="1.11"/>
<text x="717.6" y="370.4" font-size="16.9" text-anchor="middle" textLength="168.6" lengthAdjust="spacingAndGlyphs" fill="#000">Y component (cm/s)</text>
<line x1="170.6" y1="608.3" x2="175.5" y2="608.3" stroke="#000" stroke-width="1.11"/>
<text x="164.6" y="614.0999999999999" font-size="14.1" text-anchor="end" textLength="16.9" lengthAdjust="spacingAndGlyphs" fill="#000">10</text>
<rect x="138.1" y="608.9999999999999" width="9.0" height="1.25" fill="#000"/>
<line x1="170.6" y1="557.3" x2="175.5" y2="557.3" stroke="#000" stroke-width="1.11"/>
<text x="164.6" y="563.0999999999999" font-size="14.1" text-anchor="end" textLength="8.6" lengthAdjust="spacingAndGlyphs" fill="#000">5</text>
<rect x="146.1" y="557.9999999999999" width="9.0" height="1.25" fill="#000"/>
<line x1="170.6" y1="506.3" x2="175.5" y2="506.3" stroke="#000" stroke-width="1.11"/>
<text x="164.6" y="511.3" font-size="14.1" text-anchor="end" textLength="8.6" lengthAdjust="spacingAndGlyphs" fill="#000">0</text>
<line x1="170.6" y1="455.3" x2="175.5" y2="455.3" stroke="#000" stroke-width="1.11"/>
<text x="164.6" y="460.3" font-size="14.1" text-anchor="end" textLength="8.6" lengthAdjust="spacingAndGlyphs" fill="#000">5</text>
<line x1="170.6" y1="404.3" x2="175.5" y2="404.3" stroke="#000" stroke-width="1.11"/>
<text x="164.6" y="409.3" font-size="14.1" text-anchor="end" textLength="16.9" lengthAdjust="spacingAndGlyphs" fill="#000">10</text>
<line x1="175.5" y1="623.5" x2="175.5" y2="628.4" stroke="#000" stroke-width="1.11"/>
<text x="175.5" y="643.8" font-size="14.1" text-anchor="middle" fill="#000">0</text>
<line x1="311.5" y1="623.5" x2="311.5" y2="628.4" stroke="#000" stroke-width="1.11"/>
<text x="311.125" y="643.8" font-size="14.1" text-anchor="middle" textLength="16.5" lengthAdjust="spacingAndGlyphs" fill="#000">25</text>
<line x1="446.5" y1="623.5" x2="446.5" y2="628.4" stroke="#000" stroke-width="1.11"/>
<text x="446.75" y="643.8" font-size="14.1" text-anchor="middle" textLength="16.5" lengthAdjust="spacingAndGlyphs" fill="#000">50</text>
<line x1="582.5" y1="623.5" x2="582.5" y2="628.4" stroke="#000" stroke-width="1.11"/>
<text x="582.375" y="643.8" font-size="14.1" text-anchor="middle" textLength="16.5" lengthAdjust="spacingAndGlyphs" fill="#000">75</text>
<line x1="718.5" y1="623.5" x2="718.5" y2="628.4" stroke="#000" stroke-width="1.11"/>
<text x="718.0" y="643.8" font-size="14.1" text-anchor="middle" textLength="24.75" lengthAdjust="spacingAndGlyphs" fill="#000">100</text>
<line x1="853.5" y1="623.5" x2="853.5" y2="628.4" stroke="#000" stroke-width="1.11"/>
<text x="853.625" y="643.8" font-size="14.1" text-anchor="middle" textLength="24.75" lengthAdjust="spacingAndGlyphs" fill="#000">125</text>
<line x1="989.5" y1="623.5" x2="989.5" y2="628.4" stroke="#000" stroke-width="1.11"/>
<text x="989.25" y="643.8" font-size="14.1" text-anchor="middle" textLength="24.75" lengthAdjust="spacingAndGlyphs" fill="#000">150</text>
<line x1="1124.5" y1="623.5" x2="1124.5" y2="628.4" stroke="#000" stroke-width="1.11"/>
<text x="1124.875" y="643.8" font-size="14.1" text-anchor="middle" textLength="24.75" lengthAdjust="spacingAndGlyphs" fill="#000">175</text>
<line x1="1260.5" y1="623.5" x2="1260.5" y2="628.4" stroke="#000" stroke-width="1.11"/>
<text x="1260.5" y="643.8" font-size="14.1" text-anchor="middle" textLength="24.75" lengthAdjust="spacingAndGlyphs" fill="#000">200</text>
<rect x="997.5" y="385.5" width="256" height="25" rx="2.8" ry="2.8" fill="#fff" fill-opacity="0.8" stroke="#cccccc" stroke-width="1.11"/>
<line x1="1002.5" y1="397.3" x2="1030.5" y2="397.3" stroke="#1f77b4" stroke-width="1.39" stroke-linecap="square"/>
<text x="1040.3" y="401.0" font-size="14.1" text-anchor="start" textLength="207.8" lengthAdjust="spacingAndGlyphs" fill="#000">Deterministic + site response</text>
</svg>
</body></html>
